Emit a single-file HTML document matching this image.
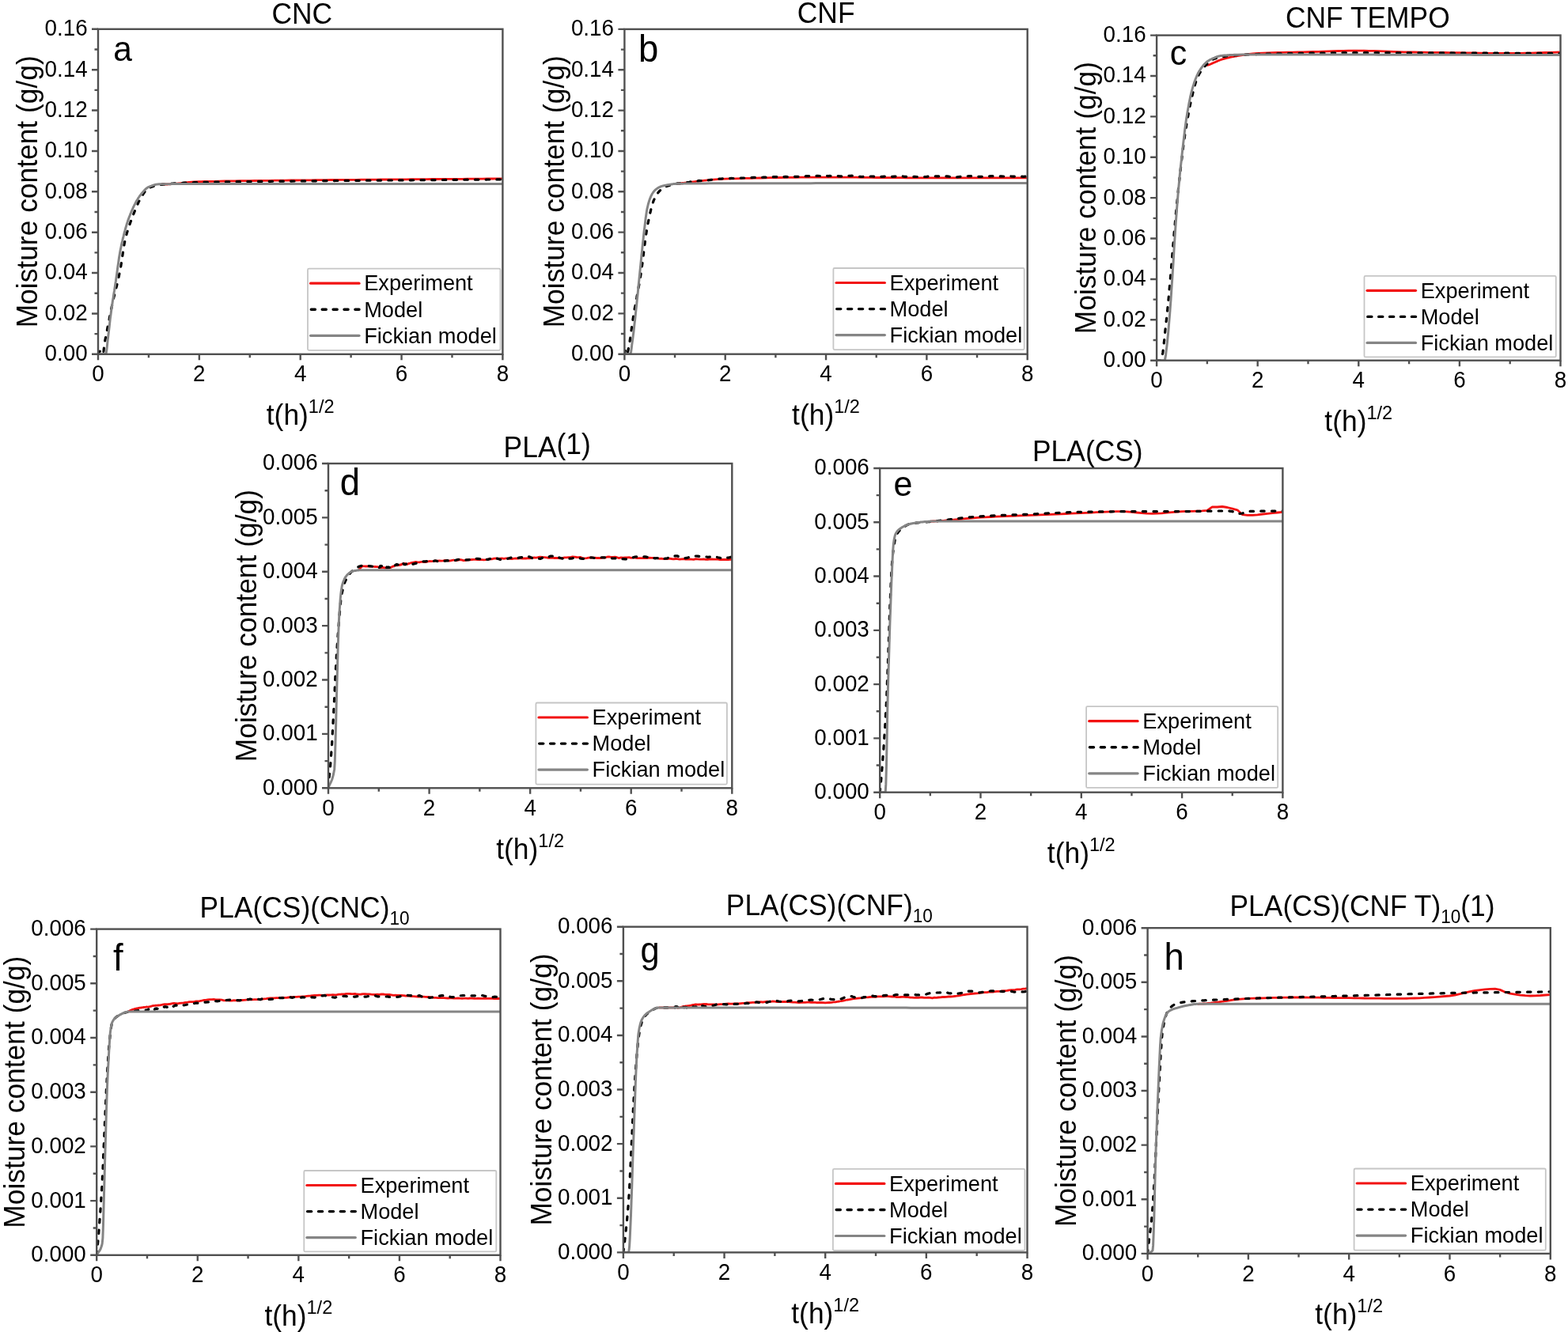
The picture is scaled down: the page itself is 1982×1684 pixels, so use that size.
<!DOCTYPE html>
<html><head><meta charset="utf-8"><title>Moisture content</title>
<style>html,body{margin:0;padding:0;background:#fff;}svg{display:block;}</style></head>
<body><svg width="1982" height="1684" viewBox="0 0 1982 1684">
<rect width="1982" height="1684" fill="#fff"/>
<clipPath id="clipa"><rect x="124.0" y="34.8" width="511.4" height="413.0"/></clipPath>
<g clip-path="url(#clipa)" fill="none" stroke-linejoin="round">
<path d="M203.9,232.8 204.5,232.8 205.2,232.9 205.8,233.0 206.5,233.0 207.1,233.1 207.7,233.1 208.4,233.0 209.0,233.0 209.7,233.0 210.3,233.0 210.9,233.0 211.6,233.0 212.2,232.9 212.9,232.9 213.5,232.9 214.1,232.9 214.8,232.8 215.4,232.8 216.1,232.7 216.7,232.7 217.3,232.7 218.0,232.6 218.6,232.6 219.2,232.5 219.9,232.5 220.5,232.4 221.2,232.4 221.8,232.3 222.4,232.2 223.1,232.2 223.7,232.1 224.4,232.1 225.0,232.0 225.6,231.9 226.3,231.9 226.3,231.9 232.7,231.2 239.1,230.5 245.5,230.0 251.9,229.7 258.2,229.5 264.6,229.4 271.0,229.3 277.4,229.1 283.8,229.0 290.2,228.9 296.6,228.8 303.0,228.7 309.4,228.6 315.8,228.6 322.2,228.5 328.6,228.4 335.0,228.4 341.3,228.3 347.7,228.2 354.1,228.2 360.5,228.1 366.9,228.0 373.3,228.0 379.7,227.9 386.1,227.8 392.5,227.8 398.9,227.7 405.3,227.7 411.7,227.6 418.1,227.5 424.4,227.5 430.8,227.4 437.2,227.4 443.6,227.3 450.0,227.3 456.4,227.2 462.8,227.2 469.2,227.1 475.6,227.1 482.0,227.0 488.4,227.0 494.8,226.9 501.2,226.9 507.6,226.8 513.9,226.8 520.3,226.7 526.7,226.7 533.1,226.6 539.5,226.6 545.9,226.5 552.3,226.5 558.7,226.4 565.1,226.4 571.5,226.3 577.9,226.3 584.3,226.3 590.7,226.2 597.0,226.2 603.4,226.1 609.8,226.1 616.2,226.0 622.6,226.0 629.0,225.9 635.4,225.9 635.4,225.9" stroke="#f21212" stroke-width="2.8"/>
<path d="M124.0,447.8 124.6,446.7 125.3,445.4 125.9,444.4 126.6,443.9 127.2,444.2 127.8,444.9 128.5,445.8 129.1,446.5 129.8,447.3 130.4,447.8 131.0,443.7 131.7,437.5 132.3,433.5 132.9,429.8 133.6,426.4 134.2,423.2 134.9,420.0 135.5,416.7 136.1,413.3 136.8,410.0 137.4,406.7 138.1,403.5 138.7,400.2 139.3,397.1 140.0,393.9 140.6,390.8 141.3,387.7 141.9,384.7 142.5,381.8 143.2,379.0 143.8,376.2 144.5,373.6 145.1,370.9 145.7,368.4 146.4,365.8 147.0,363.2 147.7,360.7 148.3,358.0 148.9,355.3 149.6,352.6 150.2,349.7 150.8,346.7 151.5,343.6 152.1,340.3 152.8,336.6 153.4,332.6 154.0,328.5 154.7,324.2 155.3,320.0 156.0,315.8 156.6,311.8 157.2,308.1 157.9,304.8 158.5,301.9 159.2,299.3 159.8,296.9 160.4,294.6 161.1,292.4 161.7,290.3 162.4,288.3 163.0,286.3 163.6,284.5 164.3,282.7 164.9,280.9 165.6,279.2 166.2,277.5 166.8,275.8 167.5,274.2 168.1,272.5 168.7,270.9 169.4,269.2 170.0,267.6 170.7,266.0 171.3,264.4 171.9,262.9 172.6,261.4 173.2,259.9 173.9,258.4 174.5,257.0 175.1,255.6 175.8,254.3 176.4,253.0 177.1,251.8 177.7,250.6 178.3,249.5 179.0,248.4 179.6,247.4 180.3,246.5 180.9,245.5 181.5,244.6 182.2,243.6 182.8,242.7 183.5,241.9 184.1,241.0 184.7,240.3 185.4,239.6 186.0,239.0 186.6,238.4 187.3,238.0 187.9,237.7 188.6,237.4 189.2,237.1 189.8,236.9 190.5,236.6 191.1,236.4 191.8,236.2 192.4,236.0 193.0,235.8 193.7,235.6 194.3,235.4 195.0,235.2 195.6,235.0 196.2,234.9 196.9,234.7 197.5,234.6 198.2,234.4 198.8,234.3 199.4,234.2 200.1,234.0 200.7,233.9 201.3,233.8 202.0,233.7 202.6,233.6 203.3,233.5 203.9,233.4 204.5,233.3 205.2,233.3 205.8,233.2 206.5,233.1 207.1,233.1 207.7,233.0 208.4,232.9 209.0,232.9 209.7,232.8 210.3,232.7 210.9,232.7 211.6,232.6 212.2,232.6 212.9,232.5 213.5,232.5 214.1,232.4 214.8,232.3 215.4,232.3 216.1,232.2 216.7,232.2 217.3,232.1 218.0,232.1 218.6,232.0 219.2,232.0 219.9,231.9 220.5,231.9 221.2,231.9 221.8,231.8 222.4,231.8 223.1,231.7 223.7,231.7 224.4,231.6 225.0,231.6 225.6,231.6 226.3,231.5 232.7,231.2 239.1,230.9 245.5,230.7 251.9,230.5 258.2,230.3 264.6,230.2 271.0,230.1 277.4,230.0 283.8,229.9 290.2,229.8 296.6,229.7 303.0,229.7 309.4,229.6 315.8,229.5 322.2,229.5 328.6,229.4 335.0,229.3 341.3,229.3 347.7,229.2 354.1,229.2 360.5,229.1 366.9,229.1 373.3,229.0 379.7,228.9 386.1,228.9 392.5,228.8 398.9,228.8 405.3,228.7 411.7,228.6 418.1,228.6 424.4,228.5 430.8,228.5 437.2,228.4 443.6,228.4 450.0,228.3 456.4,228.3 462.8,228.2 469.2,228.2 475.6,228.1 482.0,228.1 488.4,228.0 494.8,228.0 501.2,227.9 507.6,227.9 513.9,227.8 520.3,227.8 526.7,227.7 533.1,227.7 539.5,227.6 545.9,227.6 552.3,227.5 558.7,227.5 565.1,227.4 571.5,227.4 577.9,227.3 584.3,227.3 590.7,227.2 597.0,227.2 603.4,227.1 609.8,227.1 616.2,227.0 622.6,227.0 629.0,226.9 635.4,226.9 635.4,226.9" stroke="#000" stroke-width="3.2" stroke-linecap="round" stroke-dasharray="4.4,9.3"/>
<path d="M124.0,447.8 124.6,447.8 125.3,447.8 125.9,447.8 126.6,447.8 127.2,447.8 127.8,447.8 128.5,447.8 129.1,447.8 129.8,447.8 130.4,447.8 131.0,447.8 131.7,447.8 132.3,447.8 132.9,447.8 133.6,447.8 134.2,446.2 134.9,442.1 135.5,436.4 136.1,430.3 136.8,424.7 137.4,419.5 138.1,413.9 138.7,408.3 139.3,402.8 140.0,397.7 140.6,393.0 141.3,388.5 141.9,384.2 142.5,380.0 143.2,375.9 143.8,371.8 144.5,367.8 145.1,363.7 145.7,359.6 146.4,355.3 147.0,350.9 147.7,346.3 148.3,341.7 148.9,337.0 149.6,332.5 150.2,328.0 150.8,323.9 151.5,320.0 152.1,316.5 152.8,313.3 153.4,310.3 154.0,307.3 154.7,304.5 155.3,301.7 156.0,299.1 156.6,296.5 157.2,294.0 157.9,291.6 158.5,289.3 159.2,287.0 159.8,284.9 160.4,282.8 161.1,280.8 161.7,278.9 162.4,277.1 163.0,275.3 163.6,273.7 164.3,272.0 164.9,270.4 165.6,268.9 166.2,267.3 166.8,265.8 167.5,264.4 168.1,263.0 168.7,261.6 169.4,260.2 170.0,258.9 170.7,257.7 171.3,256.5 171.9,255.3 172.6,254.1 173.2,253.0 173.9,252.0 174.5,250.9 175.1,250.0 175.8,249.0 176.4,248.1 177.1,247.3 177.7,246.4 178.3,245.6 179.0,244.8 179.6,244.0 180.3,243.2 180.9,242.4 181.5,241.7 182.2,241.0 182.8,240.3 183.5,239.6 184.1,239.0 184.7,238.5 185.4,238.0 186.0,237.5 186.6,237.1 187.3,236.7 187.9,236.4 188.6,236.1 189.2,235.9 189.8,235.6 190.5,235.3 191.1,235.1 191.8,234.8 192.4,234.6 193.0,234.4 193.7,234.2 194.3,234.0 195.0,233.8 195.6,233.6 196.2,233.5 196.9,233.3 197.5,233.2 198.2,233.1 198.8,233.0 199.4,232.9 200.1,232.9 200.7,232.8 201.3,232.8 202.0,232.8 202.6,232.8 203.3,232.8 203.9,232.8 204.5,232.8 205.2,232.8 205.8,232.7 206.5,232.7 207.1,232.7 207.7,232.7 208.4,232.7 209.0,232.7 209.7,232.7 210.3,232.7 210.9,232.7 211.6,232.7 212.2,232.7 212.9,232.7 213.5,232.7 214.1,232.7 214.8,232.7 215.4,232.7 216.1,232.7 216.7,232.6 217.3,232.6 218.0,232.6 218.6,232.6 219.2,232.6 219.9,232.6 220.5,232.6 221.2,232.6 221.8,232.6 222.4,232.6 223.1,232.6 223.7,232.6 224.4,232.6 225.0,232.6 225.6,232.6 226.3,232.6 232.7,232.6 239.1,232.6 245.5,232.5 251.9,232.5 258.2,232.5 264.6,232.5 271.0,232.5 277.4,232.5 283.8,232.5 290.2,232.5 296.6,232.5 303.0,232.5 309.4,232.5 315.8,232.5 322.2,232.5 328.6,232.5 335.0,232.5 341.3,232.5 347.7,232.5 354.1,232.5 360.5,232.5 366.9,232.5 373.3,232.5 379.7,232.5 386.1,232.5 392.5,232.5 398.9,232.5 405.3,232.5 411.7,232.5 418.1,232.5 424.4,232.5 430.8,232.5 437.2,232.5 443.6,232.5 450.0,232.5 456.4,232.5 462.8,232.5 469.2,232.5 475.6,232.5 482.0,232.5 488.4,232.5 494.8,232.5 501.2,232.5 507.6,232.5 513.9,232.5 520.3,232.5 526.7,232.5 533.1,232.5 539.5,232.5 545.9,232.5 552.3,232.5 558.7,232.5 565.1,232.5 571.5,232.5 577.9,232.5 584.3,232.5 590.7,232.5 597.0,232.5 603.4,232.5 609.8,232.5 616.2,232.5 622.6,232.5 629.0,232.5 635.4,232.5 635.4,232.5" stroke="#858585" stroke-width="3"/>
</g>
<rect x="124.0" y="36.8" width="511.4" height="411.0" fill="none" stroke="#505050" stroke-width="2.4"/>
<path d="M116.00,447.80H124.00M119.50,422.11H124.00M116.00,396.43H124.00M119.50,370.74H124.00M116.00,345.05H124.00M119.50,319.36H124.00M116.00,293.68H124.00M119.50,267.99H124.00M116.00,242.30H124.00M119.50,216.61H124.00M116.00,190.93H124.00M119.50,165.24H124.00M116.00,139.55H124.00M119.50,113.86H124.00M116.00,88.18H124.00M119.50,62.49H124.00M116.00,36.80H124.00M124.00,447.80V455.30M187.93,447.80V452.30M251.85,447.80V455.30M315.77,447.80V452.30M379.70,447.80V455.30M443.62,447.80V452.30M507.55,447.80V455.30M571.47,447.80V452.30M635.40,447.80V455.30" stroke="#505050" stroke-width="2.4" fill="none"/>
<g font-family="'Liberation Sans', sans-serif" font-size="27.8" fill="#000">
<text text-anchor="end" transform="translate(110.60,456.20) scale(1,1.045)">0.00</text>
<text text-anchor="end" transform="translate(110.60,404.82) scale(1,1.045)">0.02</text>
<text text-anchor="end" transform="translate(110.60,353.45) scale(1,1.045)">0.04</text>
<text text-anchor="end" transform="translate(110.60,302.07) scale(1,1.045)">0.06</text>
<text text-anchor="end" transform="translate(110.60,250.70) scale(1,1.045)">0.08</text>
<text text-anchor="end" transform="translate(110.60,199.33) scale(1,1.045)">0.10</text>
<text text-anchor="end" transform="translate(110.60,147.95) scale(1,1.045)">0.12</text>
<text text-anchor="end" transform="translate(110.60,96.58) scale(1,1.045)">0.14</text>
<text text-anchor="end" transform="translate(110.60,45.20) scale(1,1.045)">0.16</text>
<text text-anchor="middle" transform="translate(124.00,482.40) scale(1,1.045)">0</text>
<text text-anchor="middle" transform="translate(251.85,482.40) scale(1,1.045)">2</text>
<text text-anchor="middle" transform="translate(379.70,482.40) scale(1,1.045)">4</text>
<text text-anchor="middle" transform="translate(507.55,482.40) scale(1,1.045)">6</text>
<text text-anchor="middle" transform="translate(635.40,482.40) scale(1,1.045)">8</text>
</g>
<text font-family="'Liberation Sans', sans-serif" font-size="35.4" transform="translate(46.90,242.30) rotate(-90) scale(1,1.045)" text-anchor="middle">Moisture content (g/g)</text>
<text font-family="'Liberation Sans', sans-serif" font-size="35.4" text-anchor="middle" transform="translate(379.70,537.00) scale(1,1.045)">t(h)<tspan font-size="23.6" dy="-14.16">1/2</tspan></text>
<text font-family="'Liberation Sans', sans-serif" font-size="35.4" transform="translate(343.50,29.50) scale(1,1.045)">CNC</text>
<text font-family="'Liberation Sans', sans-serif" font-size="42.5" transform="translate(143.20,77.40) scale(1,1.045)">a</text>
<rect x="389.00" y="339.70" width="243.50" height="103.10" rx="1.5" fill="#fff" stroke="#c6c6c6" stroke-width="1.8"/>
<path d="M392.60,358.20H454.00" stroke="#f21212" stroke-width="3.2" stroke-linecap="round"/>
<text font-family="'Liberation Sans', sans-serif" font-size="27.2" transform="translate(460.20,367.40) scale(1,1.045)">Experiment</text>
<path d="M393.30,391.30H455.00" stroke="#000" stroke-width="3.4" stroke-linecap="round" stroke-dasharray="5.1,8.8"/>
<text font-family="'Liberation Sans', sans-serif" font-size="27.2" transform="translate(460.20,400.50) scale(1,1.045)">Model</text>
<path d="M392.60,424.30H454.00" stroke="#858585" stroke-width="3.2" stroke-linecap="round"/>
<text font-family="'Liberation Sans', sans-serif" font-size="27.2" transform="translate(460.20,433.50) scale(1,1.045)">Fickian model</text>
<clipPath id="clipb"><rect x="789.4" y="34.9" width="509.30000000000007" height="412.8"/></clipPath>
<g clip-path="url(#clipb)" fill="none" stroke-linejoin="round">
<path d="M855.6,232.3 856.2,232.2 856.9,232.2 857.5,232.1 858.2,232.0 858.8,232.0 859.4,231.9 860.1,231.8 860.7,231.7 861.3,231.7 862.0,231.6 862.6,231.5 863.2,231.5 863.9,231.4 864.5,231.3 865.2,231.2 865.8,231.2 866.4,231.1 867.1,231.0 867.7,230.9 868.3,230.9 869.0,230.8 869.6,230.7 870.3,230.6 870.9,230.5 871.5,230.5 872.2,230.4 872.8,230.3 873.4,230.2 874.1,230.2 874.7,230.1 875.3,230.0 876.0,229.9 876.6,229.8 877.3,229.8 877.9,229.7 878.5,229.6 879.2,229.5 879.8,229.4 880.4,229.4 881.1,229.3 881.7,229.2 882.3,229.1 883.0,229.0 883.6,229.0 884.3,228.9 884.9,228.8 885.5,228.7 886.2,228.7 886.8,228.6 887.4,228.5 888.1,228.4 888.7,228.4 889.4,228.3 890.0,228.2 890.6,228.2 891.3,228.1 891.3,228.1 897.6,227.4 904.0,226.8 910.4,226.4 916.7,226.1 923.1,225.9 929.5,225.8 935.8,225.6 942.2,225.4 948.6,225.3 954.9,225.1 961.3,225.0 967.7,224.8 974.0,224.7 980.4,224.6 986.8,224.5 993.1,224.4 999.5,224.3 1005.9,224.3 1012.2,224.2 1018.6,224.2 1025.0,224.1 1031.3,224.1 1037.7,224.1 1044.1,224.1 1050.4,224.1 1056.8,224.1 1063.1,224.1 1069.5,224.2 1075.9,224.2 1082.2,224.2 1088.6,224.3 1095.0,224.3 1101.3,224.4 1107.7,224.5 1114.1,224.5 1120.4,224.6 1126.8,224.6 1133.2,224.7 1139.5,224.7 1145.9,224.8 1152.3,224.8 1158.6,224.8 1165.0,224.8 1171.4,224.8 1177.7,224.8 1184.1,224.8 1190.5,224.8 1196.8,224.8 1203.2,224.8 1209.6,224.8 1215.9,224.8 1222.3,224.8 1228.7,224.8 1235.0,224.8 1241.4,224.8 1247.8,224.8 1254.1,224.8 1260.5,224.8 1266.9,224.8 1273.2,224.8 1279.6,224.8 1286.0,224.8 1292.3,224.8 1298.7,224.8 1298.7,224.8" stroke="#f21212" stroke-width="2.8"/>
<path d="M789.4,447.7 790.0,444.5 790.7,442.6 791.3,443.9 791.9,446.4 792.6,447.7 793.2,446.4 793.9,443.3 794.5,440.0 795.1,436.7 795.8,433.1 796.4,429.1 797.0,424.8 797.7,420.4 798.3,415.9 798.9,411.3 799.6,406.8 800.2,402.5 800.9,398.3 801.5,394.4 802.1,390.7 802.8,387.1 803.4,383.6 804.0,380.1 804.7,376.7 805.3,373.4 806.0,370.0 806.6,366.6 807.2,363.1 807.9,359.6 808.5,355.9 809.1,352.2 809.8,348.3 810.4,344.2 811.0,339.8 811.7,335.0 812.3,330.1 813.0,325.0 813.6,319.8 814.2,314.6 814.9,309.5 815.5,304.6 816.1,300.0 816.8,295.7 817.4,291.7 818.0,288.0 818.7,284.4 819.3,281.1 820.0,277.8 820.6,274.7 821.2,271.8 821.9,269.0 822.5,266.3 823.1,263.6 823.8,261.2 824.4,258.9 825.1,256.9 825.7,255.1 826.3,253.4 827.0,251.9 827.6,250.5 828.2,249.1 828.9,247.9 829.5,246.9 830.1,245.8 830.8,244.9 831.4,244.0 832.1,243.3 832.7,242.6 833.3,241.9 834.0,241.2 834.6,240.6 835.2,240.0 835.9,239.4 836.5,238.9 837.1,238.3 837.8,237.9 838.4,237.4 839.1,237.0 839.7,236.7 840.3,236.4 841.0,236.1 841.6,235.9 842.2,235.7 842.9,235.4 843.5,235.2 844.1,235.0 844.8,234.8 845.4,234.7 846.1,234.5 846.7,234.3 847.3,234.2 848.0,234.0 848.6,233.9 849.2,233.7 849.9,233.6 850.5,233.5 851.2,233.3 851.8,233.2 852.4,233.1 853.1,233.0 853.7,233.0 854.3,232.7 855.0,232.2 855.6,232.1 856.2,232.0 856.9,231.8 857.5,231.9 858.2,232.0 858.8,232.0 859.4,231.8 860.1,232.1 860.7,231.8 861.3,231.8 862.0,231.7 862.6,231.5 863.2,231.1 863.9,231.1 864.5,231.1 865.2,230.9 865.8,231.0 866.4,230.9 867.1,230.7 867.7,230.6 868.3,230.6 869.0,230.5 869.6,230.6 870.3,230.7 870.9,230.5 871.5,230.3 872.2,230.0 872.8,229.9 873.4,229.7 874.1,229.7 874.7,229.4 875.3,229.5 876.0,229.3 876.6,229.3 877.3,229.3 877.9,229.4 878.5,229.4 879.2,229.3 879.8,229.3 880.4,229.1 881.1,229.1 881.7,228.8 882.3,228.8 883.0,228.4 883.6,228.6 884.3,228.4 884.9,228.6 885.5,228.5 886.2,228.6 886.8,228.4 887.4,228.3 888.1,228.1 888.7,227.9 889.4,227.9 890.0,227.9 890.6,227.9 891.3,228.0 893.8,228.0 896.4,227.7 898.9,227.3 901.4,227.1 904.0,226.8 906.5,226.3 909.1,226.2 911.6,226.1 914.2,225.9 916.7,225.8 919.3,225.8 921.8,225.6 924.4,225.4 926.9,225.5 929.5,225.4 932.0,225.4 934.6,225.3 937.1,225.1 939.6,225.0 942.2,225.0 944.7,224.8 947.3,224.8 949.8,224.7 952.4,224.4 954.9,224.3 957.5,224.2 960.0,224.3 962.6,224.3 965.1,224.2 967.7,224.2 970.2,224.2 972.7,223.9 975.3,223.7 977.8,223.7 980.4,223.7 982.9,223.4 985.5,223.6 988.0,223.7 990.6,223.7 993.1,223.4 995.7,223.6 998.2,223.2 1000.8,223.2 1003.3,223.2 1005.9,223.4 1008.4,223.3 1010.9,223.3 1013.5,223.2 1016.0,223.0 1018.6,222.7 1021.1,222.6 1023.7,222.6 1026.2,222.6 1028.8,222.6 1031.3,222.4 1033.9,222.4 1036.4,222.5 1039.0,222.3 1041.5,222.1 1044.1,222.3 1046.6,222.6 1049.1,222.4 1051.7,222.6 1054.2,222.7 1056.8,222.9 1059.3,222.6 1061.9,222.8 1064.4,222.9 1067.0,222.6 1069.5,222.2 1072.1,222.2 1074.6,222.3 1077.2,222.2 1079.7,222.7 1082.2,223.0 1084.8,223.2 1087.3,223.3 1089.9,223.5 1092.4,223.3 1095.0,223.3 1097.5,223.2 1100.1,223.0 1102.6,223.0 1105.2,223.1 1107.7,223.3 1110.3,223.4 1112.8,223.4 1115.4,223.3 1117.9,223.1 1120.4,223.1 1123.0,223.1 1125.5,223.2 1128.1,223.4 1130.6,223.2 1133.2,223.0 1135.7,223.1 1138.3,223.1 1140.8,222.9 1143.4,223.3 1145.9,223.3 1148.5,223.4 1151.0,223.3 1153.5,223.4 1156.1,223.3 1158.6,223.5 1161.2,223.5 1163.7,223.6 1166.3,223.6 1168.8,223.5 1171.4,223.4 1173.9,223.1 1176.5,222.9 1179.0,222.9 1181.6,222.7 1184.1,222.8 1186.7,222.8 1189.2,222.9 1191.7,223.0 1194.3,223.0 1196.8,222.8 1199.4,223.2 1201.9,223.4 1204.5,223.3 1207.0,223.6 1209.6,223.8 1212.1,223.6 1214.7,223.4 1217.2,223.4 1219.8,222.9 1222.3,222.8 1224.9,222.6 1227.4,222.7 1229.9,222.7 1232.5,223.0 1235.0,223.2 1237.6,223.4 1240.1,223.3 1242.7,223.2 1245.2,223.0 1247.8,222.8 1250.3,222.8 1252.9,222.7 1255.4,222.7 1258.0,222.8 1260.5,222.9 1263.0,222.9 1265.6,222.9 1268.1,223.0 1270.7,223.0 1273.2,222.9 1275.8,222.8 1278.3,223.0 1280.9,223.1 1283.4,223.3 1286.0,223.5 1288.5,223.5 1291.1,223.2 1293.6,223.3 1296.2,223.1 1298.7,222.9 1298.7,223.0" stroke="#000" stroke-width="3.2" stroke-linecap="round" stroke-dasharray="4.4,9.3"/>
<path d="M789.4,447.7 790.0,447.7 790.7,447.7 791.3,447.7 791.9,447.7 792.6,447.7 793.2,447.7 793.9,447.7 794.5,447.7 795.1,447.7 795.8,447.7 796.4,447.7 797.0,447.2 797.7,444.3 798.3,439.9 798.9,434.7 799.6,429.7 800.2,425.0 800.9,419.8 801.5,414.3 802.1,408.6 802.8,402.8 803.4,396.9 804.0,391.1 804.7,385.0 805.3,378.9 806.0,372.7 806.6,366.4 807.2,360.0 807.9,353.7 808.5,347.5 809.1,341.3 809.8,334.9 810.4,328.5 811.0,322.0 811.7,315.6 812.3,309.3 813.0,303.3 813.6,297.5 814.2,292.0 814.9,286.6 815.5,281.3 816.1,276.1 816.8,271.5 817.4,267.3 818.0,263.9 818.7,261.0 819.3,258.3 820.0,256.0 820.6,253.9 821.2,252.1 821.9,250.4 822.5,248.9 823.1,247.5 823.8,246.2 824.4,245.0 825.1,244.0 825.7,243.1 826.3,242.3 827.0,241.5 827.6,240.8 828.2,240.2 828.9,239.6 829.5,239.1 830.1,238.6 830.8,238.2 831.4,237.8 832.1,237.4 832.7,237.0 833.3,236.7 834.0,236.4 834.6,236.1 835.2,235.8 835.9,235.6 836.5,235.4 837.1,235.2 837.8,235.1 838.4,234.9 839.1,234.7 839.7,234.6 840.3,234.4 841.0,234.3 841.6,234.2 842.2,234.1 842.9,233.9 843.5,233.8 844.1,233.7 844.8,233.6 845.4,233.5 846.1,233.4 846.7,233.3 847.3,233.2 848.0,233.1 848.6,233.0 849.2,232.9 849.9,232.8 850.5,232.7 851.2,232.6 851.8,232.5 852.4,232.5 853.1,232.4 853.7,232.4 854.3,232.3 855.0,232.3 855.6,232.3 856.2,232.3 856.9,232.3 857.5,232.3 858.2,232.2 858.8,232.2 859.4,232.2 860.1,232.2 860.7,232.2 861.3,232.2 862.0,232.2 862.6,232.2 863.2,232.2 863.9,232.1 864.5,232.1 865.2,232.1 865.8,232.1 866.4,232.1 867.1,232.1 867.7,232.1 868.3,232.1 869.0,232.1 869.6,232.1 870.3,232.1 870.9,232.0 871.5,232.0 872.2,232.0 872.8,232.0 873.4,232.0 874.1,232.0 874.7,232.0 875.3,232.0 876.0,232.0 876.6,232.0 877.3,232.0 877.9,232.0 878.5,232.0 879.2,232.0 879.8,231.9 880.4,231.9 881.1,231.9 881.7,231.9 882.3,231.9 883.0,231.9 883.6,231.9 884.3,231.9 884.9,231.9 885.5,231.9 886.2,231.9 886.8,231.9 887.4,231.9 888.1,231.9 888.7,231.9 889.4,231.9 890.0,231.9 890.6,231.9 891.3,231.9 897.6,231.8 904.0,231.8 910.4,231.8 916.7,231.8 923.1,231.8 929.5,231.8 935.8,231.7 942.2,231.7 948.6,231.7 954.9,231.7 961.3,231.7 967.7,231.7 974.0,231.7 980.4,231.7 986.8,231.7 993.1,231.7 999.5,231.7 1005.9,231.7 1012.2,231.7 1018.6,231.7 1025.0,231.7 1031.3,231.6 1037.7,231.6 1044.1,231.6 1050.4,231.6 1056.8,231.6 1063.1,231.6 1069.5,231.6 1075.9,231.6 1082.2,231.6 1088.6,231.6 1095.0,231.6 1101.3,231.6 1107.7,231.6 1114.1,231.6 1120.4,231.6 1126.8,231.6 1133.2,231.6 1139.5,231.6 1145.9,231.6 1152.3,231.6 1158.6,231.6 1165.0,231.6 1171.4,231.6 1177.7,231.6 1184.1,231.6 1190.5,231.6 1196.8,231.6 1203.2,231.6 1209.6,231.6 1215.9,231.6 1222.3,231.6 1228.7,231.6 1235.0,231.6 1241.4,231.5 1247.8,231.5 1254.1,231.5 1260.5,231.5 1266.9,231.5 1273.2,231.5 1279.6,231.5 1286.0,231.5 1292.3,231.5 1298.7,231.5 1298.7,231.5" stroke="#858585" stroke-width="3"/>
</g>
<rect x="789.4" y="36.9" width="509.30000000000007" height="410.8" fill="none" stroke="#505050" stroke-width="2.4"/>
<path d="M781.40,447.70H789.40M784.90,422.02H789.40M781.40,396.35H789.40M784.90,370.67H789.40M781.40,345.00H789.40M784.90,319.32H789.40M781.40,293.65H789.40M784.90,267.97H789.40M781.40,242.30H789.40M784.90,216.62H789.40M781.40,190.95H789.40M784.90,165.27H789.40M781.40,139.60H789.40M784.90,113.92H789.40M781.40,88.25H789.40M784.90,62.58H789.40M781.40,36.90H789.40M789.40,447.70V455.20M853.06,447.70V452.20M916.73,447.70V455.20M980.39,447.70V452.20M1044.05,447.70V455.20M1107.71,447.70V452.20M1171.38,447.70V455.20M1235.04,447.70V452.20M1298.70,447.70V455.20" stroke="#505050" stroke-width="2.4" fill="none"/>
<g font-family="'Liberation Sans', sans-serif" font-size="27.8" fill="#000">
<text text-anchor="end" transform="translate(776.00,456.10) scale(1,1.045)">0.00</text>
<text text-anchor="end" transform="translate(776.00,404.75) scale(1,1.045)">0.02</text>
<text text-anchor="end" transform="translate(776.00,353.40) scale(1,1.045)">0.04</text>
<text text-anchor="end" transform="translate(776.00,302.05) scale(1,1.045)">0.06</text>
<text text-anchor="end" transform="translate(776.00,250.70) scale(1,1.045)">0.08</text>
<text text-anchor="end" transform="translate(776.00,199.35) scale(1,1.045)">0.10</text>
<text text-anchor="end" transform="translate(776.00,148.00) scale(1,1.045)">0.12</text>
<text text-anchor="end" transform="translate(776.00,96.65) scale(1,1.045)">0.14</text>
<text text-anchor="end" transform="translate(776.00,45.30) scale(1,1.045)">0.16</text>
<text text-anchor="middle" transform="translate(789.40,482.30) scale(1,1.045)">0</text>
<text text-anchor="middle" transform="translate(916.73,482.30) scale(1,1.045)">2</text>
<text text-anchor="middle" transform="translate(1044.05,482.30) scale(1,1.045)">4</text>
<text text-anchor="middle" transform="translate(1171.38,482.30) scale(1,1.045)">6</text>
<text text-anchor="middle" transform="translate(1298.70,482.30) scale(1,1.045)">8</text>
</g>
<text font-family="'Liberation Sans', sans-serif" font-size="35.4" transform="translate(713.00,242.30) rotate(-90) scale(1,1.045)" text-anchor="middle">Moisture content (g/g)</text>
<text font-family="'Liberation Sans', sans-serif" font-size="35.4" text-anchor="middle" transform="translate(1044.05,536.90) scale(1,1.045)">t(h)<tspan font-size="23.6" dy="-14.16">1/2</tspan></text>
<text font-family="'Liberation Sans', sans-serif" font-size="35.4" transform="translate(1007.80,28.90) scale(1,1.045)">CNF</text>
<text font-family="'Liberation Sans', sans-serif" font-size="45.5" transform="translate(806.90,77.70) scale(1,1.045)">b</text>
<rect x="1053.40" y="339.00" width="241.30" height="103.10" rx="1.5" fill="#fff" stroke="#c6c6c6" stroke-width="1.8"/>
<path d="M1057.00,357.50H1118.40" stroke="#f21212" stroke-width="3.2" stroke-linecap="round"/>
<text font-family="'Liberation Sans', sans-serif" font-size="27.2" transform="translate(1124.60,366.70) scale(1,1.045)">Experiment</text>
<path d="M1057.70,390.60H1119.40" stroke="#000" stroke-width="3.4" stroke-linecap="round" stroke-dasharray="5.1,8.8"/>
<text font-family="'Liberation Sans', sans-serif" font-size="27.2" transform="translate(1124.60,399.80) scale(1,1.045)">Model</text>
<path d="M1057.00,423.60H1118.40" stroke="#858585" stroke-width="3.2" stroke-linecap="round"/>
<text font-family="'Liberation Sans', sans-serif" font-size="27.2" transform="translate(1124.60,432.80) scale(1,1.045)">Fickian model</text>
<clipPath id="clipc"><rect x="1462.1" y="42.6" width="510.4000000000001" height="413.09999999999997"/></clipPath>
<g clip-path="url(#clipc)" fill="none" stroke-linejoin="round">
<path d="M1524.0,79.6 1524.6,80.7 1525.3,81.9 1525.9,82.4 1526.5,82.3 1527.2,82.2 1527.8,82.0 1528.5,81.8 1529.1,81.6 1529.7,81.3 1530.4,81.0 1531.0,80.7 1531.6,80.4 1532.3,80.1 1532.9,79.8 1533.6,79.6 1534.2,79.3 1534.8,79.0 1535.5,78.8 1536.1,78.5 1536.7,78.2 1537.4,77.9 1538.0,77.6 1538.7,77.4 1539.3,77.1 1539.9,76.8 1540.6,76.5 1541.2,76.3 1541.8,76.0 1542.5,75.8 1543.1,75.5 1543.8,75.3 1544.4,75.1 1545.0,74.9 1545.7,74.7 1546.3,74.6 1547.0,74.4 1547.6,74.2 1548.2,74.0 1548.9,73.9 1549.5,73.7 1550.1,73.5 1550.8,73.4 1551.4,73.2 1552.1,73.1 1552.7,72.9 1553.3,72.8 1554.0,72.6 1554.6,72.5 1555.2,72.3 1555.9,72.2 1556.5,72.1 1557.2,71.9 1557.8,71.8 1558.4,71.7 1559.1,71.6 1559.7,71.4 1560.4,71.3 1561.0,71.2 1561.6,71.1 1562.3,71.0 1562.9,70.9 1563.5,70.8 1564.2,70.7 1564.2,70.7 1570.6,69.6 1576.9,68.7 1583.3,68.0 1589.7,67.5 1596.1,67.2 1602.5,66.9 1608.8,66.7 1615.2,66.5 1621.6,66.4 1628.0,66.2 1634.4,66.1 1640.7,66.0 1647.1,65.8 1653.5,65.7 1659.9,65.5 1666.3,65.3 1672.6,65.1 1679.0,64.9 1685.4,64.7 1691.8,64.5 1698.2,64.4 1704.5,64.2 1710.9,64.2 1717.3,64.1 1723.7,64.2 1730.1,64.3 1736.4,64.4 1742.8,64.7 1749.2,64.9 1755.6,65.1 1762.0,65.4 1768.3,65.6 1774.7,65.8 1781.1,65.9 1787.5,66.0 1793.9,66.1 1800.2,66.2 1806.6,66.3 1813.0,66.3 1819.4,66.4 1825.8,66.5 1832.1,66.6 1838.5,66.6 1844.9,66.7 1851.3,66.8 1857.7,66.9 1864.0,67.0 1870.4,67.1 1876.8,67.2 1883.2,67.3 1889.6,67.3 1895.9,67.4 1902.3,67.5 1908.7,67.5 1915.1,67.4 1921.5,67.4 1927.8,67.2 1934.2,67.1 1940.6,66.9 1947.0,66.7 1953.4,66.5 1959.7,66.3 1966.1,66.1 1972.5,65.9 1972.5,65.9" stroke="#f21212" stroke-width="2.8"/>
<path d="M1462.1,455.7 1462.7,455.7 1463.4,455.7 1464.0,455.7 1464.7,455.7 1465.3,455.7 1465.9,455.7 1466.6,455.7 1467.2,455.7 1467.8,455.0 1468.5,453.0 1469.1,450.0 1469.8,446.0 1470.4,441.2 1471.0,435.8 1471.7,430.0 1472.3,423.9 1472.9,417.7 1473.6,411.5 1474.2,405.6 1474.9,399.9 1475.5,393.9 1476.1,387.5 1476.8,380.8 1477.4,373.9 1478.0,366.8 1478.7,359.6 1479.3,352.4 1480.0,345.0 1480.6,337.4 1481.2,329.5 1481.9,321.5 1482.5,313.6 1483.2,305.8 1483.8,298.3 1484.4,291.2 1485.1,284.3 1485.7,277.5 1486.3,270.8 1487.0,264.1 1487.6,257.6 1488.3,251.3 1488.9,245.0 1489.5,238.9 1490.2,232.8 1490.8,227.0 1491.4,221.2 1492.1,215.6 1492.7,210.0 1493.4,204.5 1494.0,199.1 1494.6,193.9 1495.3,188.8 1495.9,183.8 1496.6,179.1 1497.2,174.6 1497.8,170.3 1498.5,166.1 1499.1,162.0 1499.7,158.1 1500.4,154.2 1501.0,150.5 1501.7,146.9 1502.3,143.4 1502.9,140.1 1503.6,136.8 1504.2,133.7 1504.8,130.7 1505.5,127.9 1506.1,125.0 1506.8,122.2 1507.4,119.5 1508.0,116.8 1508.7,114.2 1509.3,111.6 1509.9,109.2 1510.6,106.9 1511.2,104.8 1511.9,102.8 1512.5,101.0 1513.1,99.3 1513.8,97.8 1514.4,96.4 1515.1,95.1 1515.7,93.9 1516.3,92.7 1517.0,91.6 1517.6,90.6 1518.2,89.6 1518.9,88.7 1519.5,87.8 1520.2,87.0 1520.8,86.2 1521.4,85.5 1522.1,84.8 1522.7,84.1 1523.3,83.4 1524.0,82.7 1524.6,82.0 1525.3,81.3 1525.9,80.7 1526.5,80.1 1527.2,79.5 1527.8,78.9 1528.5,78.3 1529.1,77.8 1529.7,77.3 1530.4,76.8 1531.0,76.4 1531.6,75.9 1532.3,75.6 1532.9,75.2 1533.6,74.9 1534.2,74.6 1534.8,74.4 1535.5,74.1 1536.1,74.0 1536.7,73.8 1537.4,73.6 1538.0,73.4 1538.7,73.3 1539.3,73.1 1539.9,73.0 1540.6,72.8 1541.2,72.7 1541.8,72.5 1542.5,72.4 1543.1,72.2 1543.8,72.1 1544.4,72.0 1545.0,71.8 1545.7,71.7 1546.3,71.6 1547.0,71.5 1547.6,71.4 1548.2,71.3 1548.9,71.2 1549.5,71.1 1550.1,71.0 1550.8,70.9 1551.4,70.8 1552.1,70.7 1552.7,70.6 1553.3,70.5 1554.0,70.5 1554.6,70.4 1555.2,70.3 1555.9,70.2 1556.5,70.2 1557.2,70.1 1557.8,70.0 1558.4,70.0 1559.1,69.9 1559.7,69.9 1560.4,69.8 1561.0,69.8 1561.6,69.7 1562.3,69.7 1562.9,69.6 1563.5,69.6 1564.2,69.5 1570.6,69.2 1576.9,68.9 1583.3,68.7 1589.7,68.5 1596.1,68.3 1602.5,68.2 1608.8,68.1 1615.2,67.9 1621.6,67.8 1628.0,67.7 1634.4,67.5 1640.7,67.4 1647.1,67.3 1653.5,67.2 1659.9,67.1 1666.3,67.0 1672.6,67.0 1679.0,66.9 1685.4,66.8 1691.8,66.8 1698.2,66.7 1704.5,66.7 1710.9,66.7 1717.3,66.7 1723.7,66.7 1730.1,66.7 1736.4,66.7 1742.8,66.7 1749.2,66.7 1755.6,66.7 1762.0,66.7 1768.3,66.8 1774.7,66.8 1781.1,66.8 1787.5,66.8 1793.9,66.8 1800.2,66.8 1806.6,66.9 1813.0,66.9 1819.4,66.9 1825.8,66.9 1832.1,66.9 1838.5,67.0 1844.9,67.0 1851.3,67.0 1857.7,67.0 1864.0,67.1 1870.4,67.1 1876.8,67.1 1883.2,67.1 1889.6,67.2 1895.9,67.2 1902.3,67.2 1908.7,67.2 1915.1,67.3 1921.5,67.3 1927.8,67.3 1934.2,67.3 1940.6,67.4 1947.0,67.4 1953.4,67.4 1959.7,67.4 1966.1,67.4 1972.5,67.5 1972.5,67.5" stroke="#000" stroke-width="3.2" stroke-linecap="round" stroke-dasharray="4.4,9.3"/>
<path d="M1462.1,455.7 1462.7,455.7 1463.4,455.7 1464.0,455.7 1464.7,455.7 1465.3,455.7 1465.9,455.7 1466.6,455.7 1467.2,455.7 1467.8,455.7 1468.5,455.7 1469.1,455.7 1469.8,455.7 1470.4,455.7 1471.0,455.7 1471.7,455.7 1472.3,455.4 1472.9,452.9 1473.6,448.5 1474.2,443.1 1474.9,437.7 1475.5,432.2 1476.1,426.0 1476.8,419.1 1477.4,411.9 1478.0,404.3 1478.7,396.4 1479.3,388.0 1480.0,379.0 1480.6,369.7 1481.2,360.2 1481.9,350.7 1482.5,340.7 1483.2,330.2 1483.8,319.6 1484.4,309.1 1485.1,299.0 1485.7,289.6 1486.3,280.6 1487.0,271.8 1487.6,263.3 1488.3,255.2 1488.9,247.5 1489.5,240.2 1490.2,233.2 1490.8,226.5 1491.4,220.1 1492.1,213.9 1492.7,207.8 1493.4,202.0 1494.0,196.2 1494.6,190.5 1495.3,184.8 1495.9,179.2 1496.6,173.7 1497.2,168.3 1497.8,163.2 1498.5,158.3 1499.1,153.7 1499.7,149.4 1500.4,145.4 1501.0,141.6 1501.7,137.9 1502.3,134.4 1502.9,130.9 1503.6,127.6 1504.2,124.5 1504.8,121.5 1505.5,118.7 1506.1,116.1 1506.8,113.6 1507.4,111.4 1508.0,109.3 1508.7,107.3 1509.3,105.3 1509.9,103.4 1510.6,101.6 1511.2,99.9 1511.9,98.2 1512.5,96.7 1513.1,95.2 1513.8,93.8 1514.4,92.5 1515.1,91.3 1515.7,90.2 1516.3,89.2 1517.0,88.3 1517.6,87.3 1518.2,86.4 1518.9,85.5 1519.5,84.7 1520.2,83.8 1520.8,83.0 1521.4,82.3 1522.1,81.5 1522.7,80.8 1523.3,80.2 1524.0,79.6 1524.6,79.0 1525.3,78.4 1525.9,77.9 1526.5,77.4 1527.2,77.0 1527.8,76.6 1528.5,76.2 1529.1,75.9 1529.7,75.5 1530.4,75.2 1531.0,74.9 1531.6,74.6 1532.3,74.2 1532.9,73.9 1533.6,73.6 1534.2,73.3 1534.8,73.1 1535.5,72.8 1536.1,72.5 1536.7,72.3 1537.4,72.1 1538.0,71.8 1538.7,71.6 1539.3,71.4 1539.9,71.2 1540.6,71.1 1541.2,70.9 1541.8,70.8 1542.5,70.6 1543.1,70.5 1543.8,70.4 1544.4,70.4 1545.0,70.3 1545.7,70.2 1546.3,70.2 1547.0,70.1 1547.6,70.1 1548.2,70.0 1548.9,70.0 1549.5,69.9 1550.1,69.9 1550.8,69.9 1551.4,69.8 1552.1,69.8 1552.7,69.7 1553.3,69.7 1554.0,69.6 1554.6,69.6 1555.2,69.6 1555.9,69.5 1556.5,69.5 1557.2,69.5 1557.8,69.4 1558.4,69.4 1559.1,69.4 1559.7,69.3 1560.4,69.3 1561.0,69.3 1561.6,69.3 1562.3,69.2 1562.9,69.2 1563.5,69.2 1564.2,69.2 1570.6,69.0 1576.9,69.0 1583.3,69.0 1589.7,69.0 1596.1,69.0 1602.5,69.0 1608.8,69.0 1615.2,69.0 1621.6,69.0 1628.0,69.0 1634.4,69.0 1640.7,69.0 1647.1,69.0 1653.5,69.0 1659.9,69.1 1666.3,69.1 1672.6,69.1 1679.0,69.1 1685.4,69.1 1691.8,69.1 1698.2,69.1 1704.5,69.1 1710.9,69.1 1717.3,69.1 1723.7,69.1 1730.1,69.1 1736.4,69.1 1742.8,69.2 1749.2,69.2 1755.6,69.2 1762.0,69.2 1768.3,69.2 1774.7,69.2 1781.1,69.2 1787.5,69.2 1793.9,69.2 1800.2,69.2 1806.6,69.3 1813.0,69.3 1819.4,69.3 1825.8,69.3 1832.1,69.3 1838.5,69.3 1844.9,69.3 1851.3,69.3 1857.7,69.3 1864.0,69.4 1870.4,69.4 1876.8,69.4 1883.2,69.4 1889.6,69.4 1895.9,69.4 1902.3,69.4 1908.7,69.4 1915.1,69.4 1921.5,69.4 1927.8,69.5 1934.2,69.5 1940.6,69.5 1947.0,69.5 1953.4,69.5 1959.7,69.5 1966.1,69.5 1972.5,69.5 1972.5,69.5" stroke="#858585" stroke-width="3"/>
</g>
<rect x="1462.1" y="44.6" width="510.4000000000001" height="411.09999999999997" fill="none" stroke="#505050" stroke-width="2.4"/>
<path d="M1454.10,455.70H1462.10M1457.60,430.01H1462.10M1454.10,404.31H1462.10M1457.60,378.62H1462.10M1454.10,352.93H1462.10M1457.60,327.23H1462.10M1454.10,301.54H1462.10M1457.60,275.84H1462.10M1454.10,250.15H1462.10M1457.60,224.46H1462.10M1454.10,198.76H1462.10M1457.60,173.07H1462.10M1454.10,147.38H1462.10M1457.60,121.68H1462.10M1454.10,95.99H1462.10M1457.60,70.29H1462.10M1454.10,44.60H1462.10M1462.10,455.70V463.20M1525.90,455.70V460.20M1589.70,455.70V463.20M1653.50,455.70V460.20M1717.30,455.70V463.20M1781.10,455.70V460.20M1844.90,455.70V463.20M1908.70,455.70V460.20M1972.50,455.70V463.20" stroke="#505050" stroke-width="2.4" fill="none"/>
<g font-family="'Liberation Sans', sans-serif" font-size="27.8" fill="#000">
<text text-anchor="end" transform="translate(1448.70,464.10) scale(1,1.045)">0.00</text>
<text text-anchor="end" transform="translate(1448.70,412.71) scale(1,1.045)">0.02</text>
<text text-anchor="end" transform="translate(1448.70,361.32) scale(1,1.045)">0.04</text>
<text text-anchor="end" transform="translate(1448.70,309.94) scale(1,1.045)">0.06</text>
<text text-anchor="end" transform="translate(1448.70,258.55) scale(1,1.045)">0.08</text>
<text text-anchor="end" transform="translate(1448.70,207.16) scale(1,1.045)">0.10</text>
<text text-anchor="end" transform="translate(1448.70,155.78) scale(1,1.045)">0.12</text>
<text text-anchor="end" transform="translate(1448.70,104.39) scale(1,1.045)">0.14</text>
<text text-anchor="end" transform="translate(1448.70,53.00) scale(1,1.045)">0.16</text>
<text text-anchor="middle" transform="translate(1462.10,490.30) scale(1,1.045)">0</text>
<text text-anchor="middle" transform="translate(1589.70,490.30) scale(1,1.045)">2</text>
<text text-anchor="middle" transform="translate(1717.30,490.30) scale(1,1.045)">4</text>
<text text-anchor="middle" transform="translate(1844.90,490.30) scale(1,1.045)">6</text>
<text text-anchor="middle" transform="translate(1972.50,490.30) scale(1,1.045)">8</text>
</g>
<text font-family="'Liberation Sans', sans-serif" font-size="35.4" transform="translate(1385.30,250.15) rotate(-90) scale(1,1.045)" text-anchor="middle">Moisture content (g/g)</text>
<text font-family="'Liberation Sans', sans-serif" font-size="35.4" text-anchor="middle" transform="translate(1717.30,544.90) scale(1,1.045)">t(h)<tspan font-size="23.6" dy="-14.16">1/2</tspan></text>
<text font-family="'Liberation Sans', sans-serif" font-size="35.4" transform="translate(1625.00,34.60) scale(1,1.045)">CNF TEMPO</text>
<text font-family="'Liberation Sans', sans-serif" font-size="43" transform="translate(1478.70,82.00) scale(1,1.045)">c</text>
<rect x="1724.50" y="348.80" width="242.30" height="102.60" rx="1.5" fill="#fff" stroke="#c6c6c6" stroke-width="1.8"/>
<path d="M1728.10,367.30H1789.50" stroke="#f21212" stroke-width="3.2" stroke-linecap="round"/>
<text font-family="'Liberation Sans', sans-serif" font-size="27.2" transform="translate(1795.70,376.50) scale(1,1.045)">Experiment</text>
<path d="M1728.80,400.40H1790.50" stroke="#000" stroke-width="3.4" stroke-linecap="round" stroke-dasharray="5.1,8.8"/>
<text font-family="'Liberation Sans', sans-serif" font-size="27.2" transform="translate(1795.70,409.60) scale(1,1.045)">Model</text>
<path d="M1728.10,433.40H1789.50" stroke="#858585" stroke-width="3.2" stroke-linecap="round"/>
<text font-family="'Liberation Sans', sans-serif" font-size="27.2" transform="translate(1795.70,442.60) scale(1,1.045)">Fickian model</text>
<clipPath id="clipd"><rect x="415.0" y="584.0" width="510.29999999999995" height="412.29999999999995"/></clipPath>
<g clip-path="url(#clipd)" fill="none" stroke-linejoin="round">
<path d="M453.3,720.9 453.9,720.2 454.5,719.4 455.2,718.6 455.8,717.8 456.5,717.1 457.1,716.5 457.7,716.1 458.4,715.9 459.0,715.9 459.7,715.9 460.3,715.9 460.9,715.9 461.6,716.0 462.2,716.0 462.8,716.0 463.5,716.0 464.1,716.0 464.8,716.0 465.4,716.1 466.0,716.1 466.7,716.1 467.3,716.1 467.9,716.2 468.6,716.2 469.2,716.2 469.9,716.3 470.5,716.3 471.1,716.3 471.8,716.4 472.4,716.4 473.0,716.4 473.7,716.5 474.3,716.5 475.0,716.5 475.6,716.6 476.2,716.6 476.9,716.7 477.5,716.7 478.1,716.8 478.8,717.4 479.4,717.8 480.1,717.9 480.7,717.7 481.3,717.6 482.0,717.8 482.6,717.5 483.3,717.3 483.9,717.4 484.5,717.7 485.2,717.4 485.8,717.8 486.4,717.8 487.1,718.2 487.7,717.7 488.4,717.9 489.0,718.0 489.6,718.3 490.3,717.9 490.9,717.9 491.5,718.1 492.2,717.9 492.8,717.6 493.5,717.6 494.1,717.4 494.7,716.8 495.4,716.7 496.0,716.5 496.6,715.9 497.3,715.8 497.9,716.0 498.6,715.2 499.2,715.0 499.8,714.9 500.5,714.7 501.1,714.7 501.8,714.8 502.4,714.8 503.0,714.7 503.7,714.4 504.3,714.3 504.9,714.5 505.6,714.0 506.2,714.0 506.9,714.1 507.5,713.6 508.1,713.0 508.8,713.0 509.4,712.9 510.0,712.6 510.7,712.5 511.3,712.6 512.0,712.4 512.6,713.1 513.2,713.1 513.9,713.0 514.5,713.3 515.1,713.4 515.8,712.9 516.4,712.5 517.1,712.5 519.6,711.6 522.2,711.0 524.7,710.5 527.3,710.7 529.8,710.8 532.4,710.3 534.9,710.4 537.5,710.5 540.0,710.1 542.6,709.5 545.1,709.6 547.7,709.4 550.2,709.1 552.8,709.2 555.3,708.9 557.9,709.2 560.4,708.9 563.0,708.4 565.5,708.5 568.1,709.2 570.6,708.6 573.2,708.0 575.7,708.6 578.3,708.4 580.8,707.5 583.4,707.8 586.0,708.6 588.5,708.3 591.1,707.7 593.6,707.9 596.2,707.5 598.7,707.3 601.3,707.4 603.8,707.5 606.4,707.6 608.9,707.6 611.5,707.8 614.0,707.7 616.6,707.2 619.1,706.8 621.7,706.8 624.2,706.2 626.8,706.0 629.3,706.3 631.9,706.1 634.4,705.9 637.0,706.3 639.5,705.9 642.1,705.9 644.6,706.3 647.2,706.5 649.7,706.2 652.3,706.0 654.8,706.1 657.4,705.7 659.9,706.0 662.5,705.8 665.0,706.0 667.6,705.7 670.2,705.9 672.7,705.2 675.3,705.0 677.8,705.1 680.4,704.5 682.9,704.2 685.5,704.4 688.0,704.6 690.6,704.8 693.1,705.3 695.7,705.4 698.2,705.1 700.8,705.5 703.3,705.3 705.9,705.5 708.4,705.8 711.0,705.6 713.5,704.8 716.1,704.9 718.6,704.6 721.2,704.6 723.7,703.9 726.3,704.1 728.8,704.5 731.4,704.7 733.9,704.4 736.5,705.7 739.0,705.8 741.6,705.6 744.1,705.1 746.7,704.8 749.2,705.1 751.8,705.2 754.3,705.5 756.9,705.5 759.5,705.7 762.0,704.8 764.6,705.1 767.1,704.2 769.7,703.9 772.2,704.3 774.8,704.3 777.3,704.2 779.9,704.7 782.4,705.6 785.0,704.8 787.5,705.1 790.1,705.0 792.6,704.9 795.2,704.7 797.7,705.3 800.3,705.2 802.8,705.2 805.4,705.6 807.9,705.6 810.5,705.7 813.0,705.6 815.6,705.6 818.1,705.5 820.7,705.2 823.2,705.3 825.8,705.3 828.3,705.6 830.9,705.7 833.4,706.4 836.0,706.2 838.5,706.6 841.1,706.7 843.7,706.5 846.2,706.1 848.8,706.5 851.3,706.8 853.9,706.5 856.4,706.6 859.0,707.2 861.5,706.9 864.1,706.6 866.6,707.1 869.2,707.1 871.7,706.9 874.3,707.1 876.8,707.3 879.4,706.6 881.9,706.8 884.5,707.2 887.0,707.2 889.6,706.9 892.1,707.3 894.7,707.3 897.2,706.9 899.8,707.0 902.3,707.2 904.9,707.1 907.4,707.2 910.0,707.5 912.5,707.5 915.1,707.3 917.6,707.5 920.2,707.7 922.7,707.3 925.3,707.4 925.3,707.5" stroke="#f21212" stroke-width="2.8"/>
<path d="M415.0,996.3 415.6,988.6 416.3,981.1 416.9,974.4 417.6,967.8 418.2,960.5 418.8,951.7 419.5,941.6 420.1,930.5 420.7,918.8 421.4,906.7 422.0,894.6 422.7,881.6 423.3,867.9 423.9,854.5 424.6,842.4 425.2,831.7 425.8,821.6 426.5,812.1 427.1,803.1 427.8,794.7 428.4,786.7 429.0,778.9 429.7,771.2 430.3,764.2 430.9,758.1 431.6,753.5 432.2,750.0 432.9,746.8 433.5,743.9 434.1,741.4 434.8,739.2 435.4,737.3 436.0,735.8 436.7,734.4 437.3,733.0 438.0,731.8 438.6,730.6 439.2,729.5 439.9,728.4 440.5,727.5 441.2,726.5 441.8,725.7 442.4,724.9 443.1,724.1 443.7,723.4 444.3,722.8 445.0,722.2 445.6,721.7 446.3,721.2 446.9,720.7 447.5,720.3 448.2,719.8 448.8,719.3 449.4,718.9 450.1,718.5 450.7,718.0 451.4,717.6 452.0,717.3 452.6,716.9 453.3,716.6 453.9,716.3 454.5,716.0 455.2,715.8 455.8,715.6 456.5,715.5 457.1,715.3 457.7,715.3 458.4,715.2 459.0,715.2 459.7,715.3 460.3,715.3 460.9,715.3 461.6,715.3 462.2,715.3 462.8,715.4 463.5,715.4 464.1,715.5 464.8,715.5 465.4,715.5 466.0,715.6 466.7,715.7 467.3,715.7 467.9,715.8 468.6,715.8 469.2,715.9 469.9,716.0 470.5,716.0 471.1,716.1 471.8,716.2 472.4,716.2 473.0,716.3 473.7,716.4 474.3,716.4 475.0,716.5 475.6,716.5 476.2,716.6 476.9,716.7 477.5,716.8 478.1,716.9 478.8,716.9 479.4,717.6 480.1,717.1 480.7,715.6 481.3,715.4 482.0,715.9 482.6,715.6 483.3,716.4 483.9,717.1 484.5,717.7 485.2,717.4 485.8,719.0 486.4,718.3 487.1,718.7 487.7,718.7 488.4,718.1 489.0,717.0 489.6,717.2 490.3,717.4 490.9,716.9 491.5,717.5 492.2,717.4 492.8,716.9 493.5,716.7 494.1,716.8 494.7,716.7 495.4,717.4 496.0,717.8 496.6,717.4 497.3,716.6 497.9,715.7 498.6,715.3 499.2,714.6 499.8,714.6 500.5,713.8 501.1,714.2 501.8,713.5 502.4,713.9 503.0,713.9 503.7,714.6 504.3,714.6 504.9,714.5 505.6,714.7 506.2,714.0 506.9,714.3 507.5,713.4 508.1,713.5 508.8,712.4 509.4,713.1 510.0,712.5 510.7,713.5 511.3,713.5 512.0,713.8 512.6,713.3 513.2,713.3 513.9,712.5 514.5,711.9 515.1,711.9 515.8,712.3 516.4,712.6 517.1,712.9 519.6,713.7 522.2,713.1 524.7,712.4 527.3,711.9 529.8,711.2 532.4,709.8 534.9,709.8 537.5,709.9 540.0,709.5 542.6,709.6 545.1,710.0 547.7,709.5 550.2,708.8 552.8,709.6 555.3,709.5 557.9,709.5 560.4,709.4 563.0,709.1 565.5,708.7 568.1,709.0 570.6,708.3 573.2,708.8 575.7,708.4 578.3,707.5 580.8,707.2 583.4,706.9 586.0,707.5 588.5,707.9 591.1,707.8 593.6,707.6 596.2,708.1 598.7,706.9 601.3,706.2 603.8,706.4 606.4,706.7 608.9,705.7 611.5,706.6 614.0,707.1 616.6,707.4 619.1,706.4 621.7,707.3 624.2,705.9 626.8,705.9 629.3,706.3 631.9,707.4 634.4,707.1 637.0,707.0 639.5,707.0 642.1,706.2 644.6,705.4 647.2,704.9 649.7,705.2 652.3,705.1 654.8,705.5 657.4,704.9 659.9,704.6 662.5,705.2 665.0,704.3 667.6,703.6 670.2,704.3 672.7,705.6 675.3,704.8 677.8,705.4 680.4,706.0 682.9,706.5 685.5,705.2 688.0,705.7 690.6,706.1 693.1,704.7 695.7,703.0 698.2,703.1 700.8,703.0 703.3,702.6 705.9,704.6 708.4,705.5 711.0,706.1 713.5,706.5 716.1,707.4 718.6,706.2 721.2,706.2 723.7,705.8 726.3,704.9 728.8,704.6 731.4,705.3 733.9,706.1 736.5,706.3 739.0,706.3 741.6,706.0 744.1,705.2 746.7,704.9 749.2,705.0 751.8,705.6 754.3,706.0 756.9,705.5 759.5,704.7 762.0,704.8 764.6,704.8 767.1,704.3 769.7,705.6 772.2,705.8 774.8,706.0 777.3,705.8 779.9,706.2 782.4,705.8 785.0,706.5 787.5,706.6 790.1,706.9 792.6,706.7 795.2,706.6 797.7,706.1 800.3,704.8 802.8,704.0 805.4,703.9 807.9,703.4 810.5,703.7 813.0,703.8 815.6,703.9 818.1,704.3 820.7,704.3 823.2,703.7 825.8,705.3 828.3,705.9 830.9,705.5 833.4,706.6 836.0,707.4 838.5,706.6 841.1,706.1 843.7,705.8 846.2,703.9 848.8,703.6 851.3,702.8 853.9,702.9 856.4,702.9 859.0,704.5 861.5,705.1 864.1,705.9 866.6,705.6 869.2,705.1 871.7,704.3 874.3,703.3 876.8,703.4 879.4,703.0 881.9,703.1 884.5,703.6 887.0,703.8 889.6,703.9 892.1,703.9 894.7,704.3 897.2,704.1 899.8,703.9 902.3,703.3 904.9,704.0 907.4,704.7 910.0,705.2 912.5,706.1 915.1,706.1 917.6,705.0 920.2,705.2 922.7,704.6 925.3,703.8 925.3,704.0" stroke="#000" stroke-width="3.2" stroke-linecap="round" stroke-dasharray="4.4,9.3"/>
<path d="M415.0,996.3 415.6,994.5 416.3,992.9 416.9,991.5 417.6,990.2 418.2,989.0 418.8,987.6 419.5,986.0 420.1,984.2 420.7,982.0 421.4,979.4 422.0,976.2 422.7,972.4 423.3,961.8 423.9,941.7 424.6,916.6 425.2,891.3 425.8,869.0 426.5,844.9 427.1,820.8 427.8,800.0 428.4,785.3 429.0,774.0 429.7,764.3 430.3,756.4 430.9,750.1 431.6,745.1 432.2,741.1 432.9,738.5 433.5,736.6 434.1,734.8 434.8,733.3 435.4,731.9 436.0,730.7 436.7,729.6 437.3,728.7 438.0,727.9 438.6,727.1 439.2,726.5 439.9,725.9 440.5,725.3 441.2,724.7 441.8,724.2 442.4,723.8 443.1,723.4 443.7,723.0 444.3,722.7 445.0,722.4 445.6,722.2 446.3,722.0 446.9,721.9 447.5,721.7 448.2,721.6 448.8,721.5 449.4,721.4 450.1,721.3 450.7,721.2 451.4,721.1 452.0,721.0 452.6,720.9 453.3,720.9 453.9,720.8 454.5,720.8 455.2,720.7 455.8,720.7 456.5,720.7 457.1,720.7 457.7,720.7 458.4,720.7 459.0,720.7 459.7,720.7 460.3,720.7 460.9,720.7 461.6,720.7 462.2,720.7 462.8,720.7 463.5,720.7 464.1,720.7 464.8,720.7 465.4,720.7 466.0,720.7 466.7,720.7 467.3,720.7 467.9,720.7 468.6,720.7 469.2,720.7 469.9,720.7 470.5,720.7 471.1,720.7 471.8,720.7 472.4,720.7 473.0,720.7 473.7,720.7 474.3,720.7 475.0,720.7 475.6,720.7 476.2,720.7 476.9,720.7 477.5,720.7 478.1,720.7 478.8,720.7 479.4,720.7 480.1,720.7 480.7,720.7 481.3,720.7 482.0,720.7 482.6,720.7 483.3,720.7 483.9,720.7 484.5,720.7 485.2,720.7 485.8,720.7 486.4,720.7 487.1,720.7 487.7,720.7 488.4,720.7 489.0,720.7 489.6,720.7 490.3,720.7 490.9,720.7 491.5,720.7 492.2,720.7 492.8,720.7 493.5,720.7 494.1,720.7 494.7,720.7 495.4,720.7 496.0,720.7 496.6,720.7 497.3,720.7 497.9,720.7 498.6,720.7 499.2,720.7 499.8,720.7 500.5,720.7 501.1,720.7 501.8,720.7 502.4,720.7 503.0,720.7 503.7,720.7 504.3,720.7 504.9,720.7 505.6,720.7 506.2,720.7 506.9,720.7 507.5,720.7 508.1,720.7 508.8,720.7 509.4,720.7 510.0,720.7 510.7,720.7 511.3,720.7 512.0,720.7 512.6,720.7 513.2,720.7 513.9,720.7 514.5,720.7 515.1,720.7 515.8,720.7 516.4,720.7 517.1,720.7 523.4,720.7 529.8,720.7 536.2,720.7 542.6,720.7 549.0,720.7 555.3,720.7 561.7,720.7 568.1,720.7 574.5,720.7 580.8,720.7 587.2,720.7 593.6,720.7 600.0,720.7 606.4,720.7 612.7,720.7 619.1,720.7 625.5,720.7 631.9,720.7 638.3,720.7 644.6,720.7 651.0,720.7 657.4,720.7 663.8,720.7 670.2,720.7 676.5,720.7 682.9,720.7 689.3,720.7 695.7,720.7 702.0,720.7 708.4,720.7 714.8,720.7 721.2,720.7 727.6,720.7 733.9,720.7 740.3,720.7 746.7,720.7 753.1,720.7 759.5,720.7 765.8,720.7 772.2,720.7 778.6,720.7 785.0,720.7 791.3,720.7 797.7,720.7 804.1,720.7 810.5,720.7 816.9,720.7 823.2,720.7 829.6,720.7 836.0,720.7 842.4,720.7 848.8,720.7 855.1,720.7 861.5,720.7 867.9,720.7 874.3,720.7 880.6,720.7 887.0,720.7 893.4,720.7 899.8,720.7 906.2,720.7 912.5,720.7 918.9,720.7 925.3,720.7 925.3,720.7" stroke="#858585" stroke-width="3"/>
</g>
<rect x="415.0" y="586.0" width="510.29999999999995" height="410.29999999999995" fill="none" stroke="#505050" stroke-width="2.4"/>
<path d="M407.00,996.30H415.00M410.50,962.11H415.00M407.00,927.92H415.00M410.50,893.72H415.00M407.00,859.53H415.00M410.50,825.34H415.00M407.00,791.15H415.00M410.50,756.96H415.00M407.00,722.77H415.00M410.50,688.58H415.00M407.00,654.38H415.00M410.50,620.19H415.00M407.00,586.00H415.00M415.00,996.30V1003.80M478.79,996.30V1000.80M542.58,996.30V1003.80M606.36,996.30V1000.80M670.15,996.30V1003.80M733.94,996.30V1000.80M797.72,996.30V1003.80M861.51,996.30V1000.80M925.30,996.30V1003.80" stroke="#505050" stroke-width="2.4" fill="none"/>
<g font-family="'Liberation Sans', sans-serif" font-size="27.8" fill="#000">
<text text-anchor="end" transform="translate(401.60,1004.70) scale(1,1.045)">0.000</text>
<text text-anchor="end" transform="translate(401.60,936.32) scale(1,1.045)">0.001</text>
<text text-anchor="end" transform="translate(401.60,867.93) scale(1,1.045)">0.002</text>
<text text-anchor="end" transform="translate(401.60,799.55) scale(1,1.045)">0.003</text>
<text text-anchor="end" transform="translate(401.60,731.17) scale(1,1.045)">0.004</text>
<text text-anchor="end" transform="translate(401.60,662.78) scale(1,1.045)">0.005</text>
<text text-anchor="end" transform="translate(401.60,594.40) scale(1,1.045)">0.006</text>
<text text-anchor="middle" transform="translate(415.00,1030.90) scale(1,1.045)">0</text>
<text text-anchor="middle" transform="translate(542.58,1030.90) scale(1,1.045)">2</text>
<text text-anchor="middle" transform="translate(670.15,1030.90) scale(1,1.045)">4</text>
<text text-anchor="middle" transform="translate(797.72,1030.90) scale(1,1.045)">6</text>
<text text-anchor="middle" transform="translate(925.30,1030.90) scale(1,1.045)">8</text>
</g>
<text font-family="'Liberation Sans', sans-serif" font-size="35.4" transform="translate(323.90,791.15) rotate(-90) scale(1,1.045)" text-anchor="middle">Moisture content (g/g)</text>
<text font-family="'Liberation Sans', sans-serif" font-size="35.4" text-anchor="middle" transform="translate(670.15,1085.50) scale(1,1.045)">t(h)<tspan font-size="23.6" dy="-14.16">1/2</tspan></text>
<text font-family="'Liberation Sans', sans-serif" font-size="35.4" transform="translate(636.6,577.9) scale(1,1.045)">PLA<tspan dy="-3.83">(1)</tspan></text>
<text font-family="'Liberation Sans', sans-serif" font-size="45.5" transform="translate(429.70,626.40) scale(1,1.045)">d</text>
<rect x="677.40" y="888.50" width="241.50" height="103.10" rx="1.5" fill="#fff" stroke="#c6c6c6" stroke-width="1.8"/>
<path d="M681.00,907.00H742.40" stroke="#f21212" stroke-width="3.2" stroke-linecap="round"/>
<text font-family="'Liberation Sans', sans-serif" font-size="27.2" transform="translate(748.60,916.20) scale(1,1.045)">Experiment</text>
<path d="M681.70,940.10H743.40" stroke="#000" stroke-width="3.4" stroke-linecap="round" stroke-dasharray="5.1,8.8"/>
<text font-family="'Liberation Sans', sans-serif" font-size="27.2" transform="translate(748.60,949.30) scale(1,1.045)">Model</text>
<path d="M681.00,973.10H742.40" stroke="#858585" stroke-width="3.2" stroke-linecap="round"/>
<text font-family="'Liberation Sans', sans-serif" font-size="27.2" transform="translate(748.60,982.30) scale(1,1.045)">Fickian model</text>
<clipPath id="clipe"><rect x="1112.2" y="590.0" width="509.20000000000005" height="411.70000000000005"/></clipPath>
<g clip-path="url(#clipe)" fill="none" stroke-linejoin="round">
<path d="M1175.9,659.1 1176.5,659.1 1177.1,659.1 1177.8,659.1 1178.4,659.1 1179.0,659.0 1179.7,659.0 1180.3,659.0 1180.9,659.0 1181.6,658.9 1182.2,658.9 1182.9,658.9 1183.5,658.9 1184.1,658.8 1184.8,658.8 1185.4,658.8 1186.0,658.7 1186.7,658.7 1187.3,658.6 1187.9,658.6 1188.6,658.6 1189.2,658.5 1189.9,658.5 1190.5,658.4 1191.1,658.4 1191.8,658.3 1192.4,658.3 1193.0,658.3 1193.7,658.2 1194.3,658.2 1194.9,658.1 1195.6,658.0 1196.2,658.0 1196.9,657.9 1197.5,657.9 1198.1,657.8 1198.8,657.8 1199.4,657.7 1200.0,657.7 1200.7,657.6 1201.3,657.5 1201.9,657.5 1202.6,657.4 1203.2,657.4 1203.9,657.3 1204.5,657.2 1205.1,657.2 1205.8,657.1 1206.4,657.1 1207.0,657.0 1207.7,656.9 1208.3,656.9 1208.9,656.8 1209.6,656.7 1210.2,656.7 1210.9,656.6 1211.5,656.6 1212.1,656.5 1212.8,656.4 1213.4,656.4 1214.0,656.3 1214.0,656.3 1220.4,655.7 1226.8,655.1 1233.1,654.6 1239.5,654.1 1245.9,653.8 1252.2,653.5 1258.6,653.2 1265.0,652.9 1271.3,652.7 1277.7,652.4 1284.1,652.2 1290.4,651.9 1296.8,651.7 1303.2,651.4 1309.5,651.1 1315.9,650.9 1322.2,650.6 1328.6,650.3 1335.0,650.0 1341.3,649.8 1347.7,649.5 1354.1,649.2 1360.4,648.9 1366.8,648.7 1373.2,648.4 1379.5,648.1 1385.9,647.7 1392.3,647.4 1398.6,647.1 1405.0,646.8 1411.4,646.7 1417.7,646.6 1424.1,646.8 1430.5,647.3 1436.8,648.0 1443.2,648.6 1449.5,649.2 1455.9,649.4 1462.3,649.2 1468.6,648.8 1475.0,648.2 1481.4,647.6 1487.7,647.1 1494.1,646.6 1500.5,646.4 1506.8,646.3 1513.2,646.1 1519.6,645.9 1525.9,645.4 1532.3,640.8 1538.7,641.0 1545.0,640.5 1551.4,641.5 1557.8,643.2 1564.1,644.8 1570.5,650.7 1576.8,651.3 1583.2,651.4 1589.6,650.9 1595.9,650.0 1602.3,649.4 1608.7,648.7 1615.0,648.0 1621.4,647.3 1621.4,647.3" stroke="#f21212" stroke-width="2.8"/>
<path d="M1112.2,1001.7 1112.8,995.2 1113.5,988.8 1114.1,981.9 1114.7,974.4 1115.4,966.5 1116.0,958.1 1116.7,949.3 1117.3,940.2 1117.9,930.7 1118.6,920.9 1119.2,910.3 1119.8,898.9 1120.5,886.4 1121.1,871.7 1121.7,855.3 1122.4,838.2 1123.0,820.4 1123.7,801.1 1124.3,782.1 1124.9,765.4 1125.6,750.6 1126.2,736.3 1126.8,723.2 1127.5,712.4 1128.1,704.7 1128.7,699.0 1129.4,694.0 1130.0,689.5 1130.7,685.6 1131.3,682.4 1131.9,679.8 1132.6,677.8 1133.2,676.4 1133.8,675.2 1134.5,674.1 1135.1,673.1 1135.8,672.2 1136.4,671.5 1137.0,670.8 1137.7,670.1 1138.3,669.5 1138.9,669.0 1139.6,668.5 1140.2,668.0 1140.8,667.5 1141.5,667.0 1142.1,666.5 1142.8,666.0 1143.4,665.6 1144.0,665.2 1144.7,664.8 1145.3,664.4 1145.9,664.0 1146.6,663.7 1147.2,663.4 1147.8,663.1 1148.5,662.9 1149.1,662.7 1149.8,662.5 1150.4,662.3 1151.0,662.2 1151.7,662.1 1152.3,662.0 1152.9,661.9 1153.6,661.7 1154.2,661.6 1154.8,661.5 1155.5,661.4 1156.1,661.3 1156.8,661.3 1157.4,661.2 1158.0,661.1 1158.7,661.0 1159.3,660.9 1159.9,660.9 1160.6,660.8 1161.2,660.7 1161.8,660.7 1162.5,660.6 1163.1,660.5 1163.8,660.5 1164.4,660.4 1165.0,660.4 1165.7,660.3 1166.3,660.2 1166.9,660.2 1167.6,660.1 1168.2,660.1 1168.8,660.0 1169.5,660.0 1170.1,659.9 1170.8,659.9 1171.4,659.8 1172.0,659.8 1172.7,659.7 1173.3,659.7 1173.9,659.7 1174.6,659.6 1175.2,659.6 1175.9,659.5 1176.5,659.5 1177.1,659.4 1177.8,659.3 1178.4,659.3 1179.0,659.2 1179.7,659.2 1180.3,659.1 1180.9,659.0 1181.6,659.0 1182.2,658.9 1182.9,658.8 1183.5,658.8 1184.1,658.7 1184.8,658.6 1185.4,658.6 1186.0,658.5 1186.7,658.4 1187.3,658.4 1187.9,658.3 1188.6,658.2 1189.2,658.1 1189.9,658.1 1190.5,658.0 1191.1,657.9 1191.8,657.8 1192.4,657.8 1193.0,657.7 1193.7,657.6 1194.3,657.5 1194.9,657.5 1195.6,657.4 1196.2,657.3 1196.9,657.2 1197.5,657.1 1198.1,657.1 1198.8,657.0 1199.4,656.9 1200.0,656.8 1200.7,656.8 1201.3,656.7 1201.9,656.6 1202.6,656.5 1203.2,656.4 1203.9,656.4 1204.5,656.3 1205.1,656.2 1205.8,656.1 1206.4,656.1 1207.0,656.0 1207.7,655.9 1208.3,655.8 1208.9,655.7 1209.6,655.7 1210.2,655.6 1210.9,655.5 1211.5,655.4 1212.1,655.4 1212.8,655.3 1213.4,655.2 1214.0,655.1 1220.4,654.4 1226.8,653.8 1233.1,653.2 1239.5,652.8 1245.9,652.4 1252.2,652.1 1258.6,651.8 1265.0,651.5 1271.3,651.3 1277.7,651.0 1284.1,650.8 1290.4,650.5 1296.8,650.3 1303.2,650.0 1309.5,649.8 1315.9,649.4 1322.2,649.1 1328.6,648.8 1335.0,648.5 1341.3,648.2 1347.7,647.9 1354.1,647.6 1360.4,647.4 1366.8,647.3 1373.2,647.2 1379.5,647.1 1385.9,647.0 1392.3,646.9 1398.6,646.8 1405.0,646.8 1411.4,646.7 1417.7,646.7 1424.1,646.6 1430.5,646.6 1436.8,646.6 1443.2,646.6 1449.5,646.6 1455.9,646.6 1462.3,646.6 1468.6,646.6 1475.0,646.6 1481.4,646.6 1487.7,646.6 1494.1,646.6 1500.5,646.6 1506.8,646.5 1513.2,646.4 1519.6,646.3 1525.9,646.2 1532.3,646.1 1538.7,646.0 1545.0,646.0 1551.4,645.9 1557.8,646.6 1564.1,649.6 1570.5,649.0 1576.8,646.5 1583.2,646.4 1589.6,646.2 1595.9,646.2 1602.3,646.1 1608.7,646.1 1615.0,646.0 1621.4,645.9 1621.4,645.9" stroke="#000" stroke-width="3.2" stroke-linecap="round" stroke-dasharray="4.4,9.3"/>
<path d="M1112.2,1001.7 1112.8,1001.7 1113.5,1001.7 1114.1,1001.7 1114.7,1001.7 1115.4,1001.7 1116.0,1001.7 1116.7,1001.7 1117.3,1001.7 1117.9,1001.7 1118.6,1001.7 1119.2,1001.7 1119.8,991.9 1120.5,967.0 1121.1,934.1 1121.7,900.1 1122.4,872.0 1123.0,849.5 1123.7,827.9 1124.3,807.3 1124.9,787.8 1125.6,769.5 1126.2,752.3 1126.8,736.2 1127.5,721.5 1128.1,708.4 1128.7,696.0 1129.4,687.6 1130.0,683.1 1130.7,679.6 1131.3,677.0 1131.9,675.3 1132.6,674.1 1133.2,673.0 1133.8,672.1 1134.5,671.3 1135.1,670.6 1135.8,670.0 1136.4,669.4 1137.0,668.9 1137.7,668.5 1138.3,668.0 1138.9,667.6 1139.6,667.2 1140.2,666.7 1140.8,666.4 1141.5,666.0 1142.1,665.6 1142.8,665.3 1143.4,664.9 1144.0,664.6 1144.7,664.3 1145.3,664.0 1145.9,663.8 1146.6,663.5 1147.2,663.3 1147.8,663.0 1148.5,662.8 1149.1,662.7 1149.8,662.5 1150.4,662.3 1151.0,662.2 1151.7,662.0 1152.3,661.9 1152.9,661.8 1153.6,661.7 1154.2,661.5 1154.8,661.4 1155.5,661.3 1156.1,661.2 1156.8,661.1 1157.4,661.0 1158.0,660.9 1158.7,660.8 1159.3,660.7 1159.9,660.6 1160.6,660.5 1161.2,660.4 1161.8,660.4 1162.5,660.3 1163.1,660.2 1163.8,660.1 1164.4,660.1 1165.0,660.0 1165.7,659.9 1166.3,659.9 1166.9,659.8 1167.6,659.8 1168.2,659.7 1168.8,659.6 1169.5,659.6 1170.1,659.6 1170.8,659.5 1171.4,659.5 1172.0,659.4 1172.7,659.4 1173.3,659.3 1173.9,659.3 1174.6,659.2 1175.2,659.2 1175.9,659.1 1176.5,659.1 1177.1,659.1 1177.8,659.0 1178.4,659.0 1179.0,659.0 1179.7,659.0 1180.3,658.9 1180.9,658.9 1181.6,658.9 1182.2,658.9 1182.9,658.9 1183.5,658.9 1184.1,658.9 1184.8,658.9 1185.4,658.9 1186.0,658.9 1186.7,658.9 1187.3,658.9 1187.9,658.9 1188.6,658.9 1189.2,658.9 1189.9,658.9 1190.5,658.9 1191.1,658.9 1191.8,658.9 1192.4,658.9 1193.0,658.9 1193.7,658.9 1194.3,658.9 1194.9,658.9 1195.6,658.9 1196.2,658.9 1196.9,658.9 1197.5,658.9 1198.1,658.9 1198.8,658.9 1199.4,658.9 1200.0,658.9 1200.7,658.9 1201.3,658.9 1201.9,658.9 1202.6,658.9 1203.2,658.9 1203.9,658.9 1204.5,658.9 1205.1,658.9 1205.8,658.9 1206.4,658.9 1207.0,658.9 1207.7,658.9 1208.3,658.9 1208.9,658.9 1209.6,658.9 1210.2,658.9 1210.9,658.9 1211.5,658.9 1212.1,658.9 1212.8,658.9 1213.4,658.9 1214.0,658.9 1220.4,658.9 1226.8,658.9 1233.1,658.9 1239.5,658.9 1245.9,658.9 1252.2,658.9 1258.6,658.9 1265.0,658.9 1271.3,658.9 1277.7,658.9 1284.1,658.9 1290.4,658.9 1296.8,658.9 1303.2,658.9 1309.5,658.9 1315.9,658.9 1322.2,658.9 1328.6,658.9 1335.0,658.9 1341.3,658.9 1347.7,658.9 1354.1,658.9 1360.4,658.9 1366.8,658.9 1373.2,658.9 1379.5,658.9 1385.9,658.9 1392.3,658.9 1398.6,658.9 1405.0,658.9 1411.4,658.9 1417.7,658.9 1424.1,658.9 1430.5,658.9 1436.8,658.9 1443.2,658.9 1449.5,658.9 1455.9,658.9 1462.3,658.9 1468.6,658.9 1475.0,658.9 1481.4,658.9 1487.7,658.9 1494.1,658.9 1500.5,658.9 1506.8,658.9 1513.2,658.9 1519.6,658.9 1525.9,658.9 1532.3,658.9 1538.7,658.9 1545.0,658.9 1551.4,658.9 1557.8,658.9 1564.1,658.9 1570.5,658.9 1576.8,658.9 1583.2,658.9 1589.6,658.9 1595.9,658.9 1602.3,658.9 1608.7,658.9 1615.0,658.9 1621.4,658.9 1621.4,658.9" stroke="#858585" stroke-width="3"/>
</g>
<rect x="1112.2" y="592.0" width="509.20000000000005" height="409.70000000000005" fill="none" stroke="#505050" stroke-width="2.4"/>
<path d="M1104.20,1001.70H1112.20M1107.70,967.56H1112.20M1104.20,933.42H1112.20M1107.70,899.28H1112.20M1104.20,865.13H1112.20M1107.70,830.99H1112.20M1104.20,796.85H1112.20M1107.70,762.71H1112.20M1104.20,728.57H1112.20M1107.70,694.42H1112.20M1104.20,660.28H1112.20M1107.70,626.14H1112.20M1104.20,592.00H1112.20M1112.20,1001.70V1009.20M1175.85,1001.70V1006.20M1239.50,1001.70V1009.20M1303.15,1001.70V1006.20M1366.80,1001.70V1009.20M1430.45,1001.70V1006.20M1494.10,1001.70V1009.20M1557.75,1001.70V1006.20M1621.40,1001.70V1009.20" stroke="#505050" stroke-width="2.4" fill="none"/>
<g font-family="'Liberation Sans', sans-serif" font-size="27.8" fill="#000">
<text text-anchor="end" transform="translate(1098.80,1010.10) scale(1,1.045)">0.000</text>
<text text-anchor="end" transform="translate(1098.80,941.82) scale(1,1.045)">0.001</text>
<text text-anchor="end" transform="translate(1098.80,873.53) scale(1,1.045)">0.002</text>
<text text-anchor="end" transform="translate(1098.80,805.25) scale(1,1.045)">0.003</text>
<text text-anchor="end" transform="translate(1098.80,736.97) scale(1,1.045)">0.004</text>
<text text-anchor="end" transform="translate(1098.80,668.68) scale(1,1.045)">0.005</text>
<text text-anchor="end" transform="translate(1098.80,600.40) scale(1,1.045)">0.006</text>
<text text-anchor="middle" transform="translate(1112.20,1036.30) scale(1,1.045)">0</text>
<text text-anchor="middle" transform="translate(1239.50,1036.30) scale(1,1.045)">2</text>
<text text-anchor="middle" transform="translate(1366.80,1036.30) scale(1,1.045)">4</text>
<text text-anchor="middle" transform="translate(1494.10,1036.30) scale(1,1.045)">6</text>
<text text-anchor="middle" transform="translate(1621.40,1036.30) scale(1,1.045)">8</text>
</g>
<text font-family="'Liberation Sans', sans-serif" font-size="35.4" text-anchor="middle" transform="translate(1366.80,1090.90) scale(1,1.045)">t(h)<tspan font-size="23.6" dy="-14.16">1/2</tspan></text>
<text font-family="'Liberation Sans', sans-serif" font-size="35.4" transform="translate(1305.00,582.90) scale(1,1.045)">PLA(CS)</text>
<text font-family="'Liberation Sans', sans-serif" font-size="43" transform="translate(1129.60,626.50) scale(1,1.045)">e</text>
<rect x="1373.10" y="893.20" width="242.10" height="102.70" rx="1.5" fill="#fff" stroke="#c6c6c6" stroke-width="1.8"/>
<path d="M1376.70,911.70H1438.10" stroke="#f21212" stroke-width="3.2" stroke-linecap="round"/>
<text font-family="'Liberation Sans', sans-serif" font-size="27.2" transform="translate(1444.30,920.90) scale(1,1.045)">Experiment</text>
<path d="M1377.40,944.80H1439.10" stroke="#000" stroke-width="3.4" stroke-linecap="round" stroke-dasharray="5.1,8.8"/>
<text font-family="'Liberation Sans', sans-serif" font-size="27.2" transform="translate(1444.30,954.00) scale(1,1.045)">Model</text>
<path d="M1376.70,977.80H1438.10" stroke="#858585" stroke-width="3.2" stroke-linecap="round"/>
<text font-family="'Liberation Sans', sans-serif" font-size="27.2" transform="translate(1444.30,987.00) scale(1,1.045)">Fickian model</text>
<clipPath id="clipf"><rect x="122.2" y="1172.6" width="510.3" height="414.20000000000005"/></clipPath>
<g clip-path="url(#clipf)" fill="none" stroke-linejoin="round">
<path d="M162.4,1279.0 163.0,1278.3 163.7,1278.0 164.3,1277.7 164.9,1277.4 165.6,1277.1 166.2,1276.9 166.9,1276.6 167.5,1276.4 168.1,1276.2 168.8,1276.0 169.4,1275.8 170.0,1275.6 170.7,1275.4 171.3,1275.3 172.0,1275.1 172.6,1275.0 173.2,1274.8 173.9,1274.7 174.5,1274.6 175.1,1274.5 175.8,1274.4 176.4,1274.2 177.1,1274.1 177.7,1274.1 178.3,1274.0 179.0,1273.9 179.6,1273.8 180.2,1273.7 180.9,1273.6 181.5,1273.5 182.2,1273.4 182.8,1273.4 183.4,1273.3 184.1,1273.2 184.7,1273.1 185.3,1273.0 186.0,1273.1 186.6,1273.2 187.3,1273.2 187.9,1272.8 188.5,1272.9 189.2,1272.8 189.8,1272.5 190.5,1272.3 191.1,1272.3 191.7,1272.0 192.4,1271.7 193.0,1271.6 193.6,1271.6 194.3,1271.4 194.9,1271.4 195.6,1271.3 196.2,1271.4 196.8,1271.1 197.5,1271.1 198.1,1271.1 198.7,1271.2 199.4,1271.0 200.0,1271.0 200.7,1271.0 201.3,1270.9 201.9,1270.8 202.6,1270.8 203.2,1270.7 203.8,1270.4 204.5,1270.4 205.1,1270.3 205.8,1270.0 206.4,1270.0 207.0,1270.1 207.7,1269.7 208.3,1269.6 209.0,1269.6 209.6,1269.6 210.2,1269.6 210.9,1269.6 211.5,1269.7 212.1,1269.6 212.8,1269.5 213.4,1269.4 214.1,1269.5 214.7,1269.3 215.3,1269.2 216.0,1269.3 216.6,1269.0 217.2,1268.7 217.9,1268.7 218.5,1268.6 219.2,1268.4 219.8,1268.4 220.4,1268.5 221.1,1268.3 221.7,1268.7 222.3,1268.7 223.0,1268.6 223.6,1268.8 224.3,1268.8 226.8,1268.4 229.4,1268.1 231.9,1267.9 234.5,1267.4 237.0,1267.1 239.6,1266.7 242.1,1266.7 244.7,1266.6 247.2,1266.0 249.8,1265.8 252.3,1265.6 254.9,1265.1 257.4,1264.5 260.0,1264.3 262.5,1264.0 265.1,1263.7 267.6,1263.6 270.2,1263.5 272.7,1263.8 275.3,1263.8 277.8,1263.8 280.4,1264.2 282.9,1264.8 285.5,1264.9 288.0,1264.8 290.6,1265.2 293.2,1265.2 295.7,1264.7 298.3,1264.8 300.8,1265.1 303.4,1264.9 305.9,1264.5 308.5,1264.4 311.0,1264.1 313.6,1263.9 316.1,1263.9 318.7,1263.8 321.2,1263.7 323.8,1263.6 326.3,1263.6 328.9,1263.5 331.4,1263.1 334.0,1262.8 336.5,1262.6 339.1,1262.2 341.6,1262.0 344.2,1262.0 346.7,1261.8 349.3,1261.6 351.8,1261.7 354.4,1261.3 356.9,1261.2 359.5,1261.3 362.0,1261.3 364.6,1261.0 367.1,1260.7 369.7,1260.7 372.2,1260.4 374.8,1260.4 377.4,1260.2 379.9,1260.2 382.5,1259.9 385.0,1259.9 387.6,1259.4 390.1,1259.2 392.7,1259.0 395.2,1258.6 397.8,1258.3 400.3,1258.3 402.9,1258.2 405.4,1258.2 408.0,1258.3 410.5,1258.2 413.1,1257.9 415.6,1258.0 418.2,1257.8 420.7,1257.7 423.3,1257.8 425.8,1257.6 428.4,1257.1 430.9,1257.0 433.5,1256.8 436.0,1256.7 438.6,1256.3 441.1,1256.3 443.7,1256.5 446.2,1256.6 448.8,1256.4 451.3,1257.0 453.9,1257.1 456.4,1257.0 459.0,1256.7 461.5,1256.6 464.1,1256.9 466.7,1256.9 469.2,1257.2 471.8,1257.3 474.3,1257.5 476.9,1257.1 479.4,1257.4 482.0,1257.0 484.5,1257.0 487.1,1257.3 489.6,1257.4 492.2,1257.5 494.7,1257.9 497.3,1258.4 499.8,1258.2 502.4,1258.5 504.9,1258.5 507.5,1258.5 510.0,1258.6 512.6,1259.0 515.1,1259.1 517.7,1259.2 520.2,1259.6 522.8,1259.7 525.3,1259.9 527.9,1260.0 530.4,1260.1 533.0,1260.2 535.5,1260.2 538.1,1260.4 540.6,1260.5 543.2,1260.7 545.7,1260.9 548.3,1261.3 550.9,1261.3 553.4,1261.6 556.0,1261.7 558.5,1261.7 561.1,1261.6 563.6,1261.8 566.2,1262.0 568.7,1261.9 571.3,1261.9 573.8,1262.2 576.4,1262.1 578.9,1262.0 581.5,1262.2 584.0,1262.3 586.6,1262.1 589.1,1262.2 591.7,1262.4 594.2,1262.0 596.8,1262.1 599.3,1262.3 601.9,1262.3 604.4,1262.2 607.0,1262.4 609.5,1262.4 612.1,1262.2 614.6,1262.3 617.2,1262.3 619.7,1262.3 622.3,1262.3 624.8,1262.5 627.4,1262.5 629.9,1262.4 632.5,1262.5 632.5,1262.4" stroke="#f21212" stroke-width="2.8"/>
<path d="M122.2,1586.8 122.8,1580.1 123.5,1573.4 124.1,1566.2 124.8,1558.5 125.4,1550.6 126.0,1542.4 126.7,1533.7 127.3,1524.5 127.9,1514.8 128.6,1504.4 129.2,1492.7 129.9,1479.5 130.5,1465.3 131.1,1450.7 131.8,1436.1 132.4,1421.9 133.0,1407.7 133.7,1393.3 134.3,1379.4 135.0,1367.0 135.6,1355.7 136.2,1344.8 136.9,1334.8 137.5,1326.0 138.1,1318.9 138.8,1312.8 139.4,1307.0 140.1,1301.8 140.7,1297.4 141.3,1294.1 142.0,1292.1 142.6,1290.9 143.2,1289.9 143.9,1288.9 144.5,1288.1 145.2,1287.4 145.8,1286.8 146.4,1286.2 147.1,1285.7 147.7,1285.2 148.4,1284.8 149.0,1284.5 149.6,1284.1 150.3,1283.7 150.9,1283.4 151.5,1283.0 152.2,1282.7 152.8,1282.4 153.5,1282.1 154.1,1281.8 154.7,1281.5 155.4,1281.2 156.0,1281.0 156.6,1280.7 157.3,1280.5 157.9,1280.3 158.6,1280.1 159.2,1279.9 159.8,1279.7 160.5,1279.5 161.1,1279.4 161.7,1279.2 162.4,1279.1 163.0,1279.0 163.7,1278.9 164.3,1278.8 164.9,1278.7 165.6,1278.6 166.2,1278.5 166.9,1278.5 167.5,1278.4 168.1,1278.3 168.8,1278.2 169.4,1278.2 170.0,1278.1 170.7,1278.1 171.3,1278.0 172.0,1277.9 172.6,1277.9 173.2,1277.8 173.9,1277.8 174.5,1277.7 175.1,1277.7 175.8,1277.6 176.4,1277.6 177.1,1277.5 177.7,1277.5 178.3,1277.5 179.0,1277.4 179.6,1277.4 180.2,1277.3 180.9,1277.3 181.5,1277.2 182.2,1277.2 182.8,1277.2 183.4,1277.1 184.1,1277.1 184.7,1277.0 185.3,1277.0 186.0,1276.9 186.6,1277.2 187.3,1276.8 187.9,1275.6 188.5,1275.4 189.2,1275.6 189.8,1275.2 190.5,1275.6 191.1,1276.0 191.7,1276.2 192.4,1275.9 193.0,1276.9 193.6,1276.3 194.3,1276.5 194.9,1276.4 195.6,1276.0 196.2,1275.1 196.8,1275.3 197.5,1275.3 198.1,1274.9 198.7,1275.3 199.4,1275.2 200.0,1274.9 200.7,1274.8 201.3,1274.8 201.9,1274.8 202.6,1275.2 203.2,1275.5 203.8,1275.2 204.5,1274.7 205.1,1274.1 205.8,1273.8 206.4,1273.4 207.0,1273.3 207.7,1272.8 208.3,1273.1 209.0,1272.6 209.6,1272.9 210.2,1272.9 210.9,1273.3 211.5,1273.2 212.1,1273.2 212.8,1273.2 213.4,1272.7 214.1,1272.9 214.7,1272.2 215.3,1272.3 216.0,1271.5 216.6,1271.9 217.2,1271.5 217.9,1272.1 218.5,1272.1 219.2,1272.3 219.8,1271.9 220.4,1271.9 221.1,1271.3 221.7,1270.9 222.3,1270.9 223.0,1271.1 223.6,1271.3 224.3,1271.5 226.8,1272.0 229.4,1271.5 231.9,1270.9 234.5,1270.5 237.0,1269.9 239.6,1268.9 242.1,1268.8 244.7,1268.7 247.2,1268.2 249.8,1268.1 252.3,1268.2 254.9,1267.6 257.4,1266.9 260.0,1267.2 262.5,1266.9 265.1,1266.7 267.6,1266.5 270.2,1266.1 272.7,1265.7 275.3,1265.8 277.8,1265.3 280.4,1265.5 282.9,1265.2 285.5,1264.6 288.0,1264.3 290.6,1264.1 293.2,1264.5 295.7,1264.7 298.3,1264.6 300.8,1264.5 303.4,1264.8 305.9,1264.0 308.5,1263.4 311.0,1263.5 313.6,1263.7 316.1,1263.0 318.7,1263.5 321.2,1263.8 323.8,1263.9 326.3,1263.2 328.9,1263.8 331.4,1262.8 334.0,1262.7 336.5,1262.9 339.1,1263.6 341.6,1263.3 344.2,1263.2 346.7,1263.1 349.3,1262.5 351.8,1261.9 354.4,1261.5 356.9,1261.7 359.5,1261.5 362.0,1261.7 364.6,1261.2 367.1,1260.9 369.7,1261.3 372.2,1260.6 374.8,1260.1 377.4,1260.4 379.9,1261.3 382.5,1260.6 385.0,1261.0 387.6,1261.3 390.1,1261.6 392.7,1260.7 395.2,1260.9 397.8,1261.1 400.3,1260.1 402.9,1258.9 405.4,1258.9 408.0,1258.8 410.5,1258.4 413.1,1259.7 415.6,1260.2 418.2,1260.6 420.7,1260.8 423.3,1261.3 425.8,1260.5 428.4,1260.5 430.9,1260.2 433.5,1259.5 436.0,1259.3 438.6,1259.7 441.1,1260.2 443.7,1260.3 446.2,1260.3 448.8,1260.1 451.3,1259.6 453.9,1259.4 456.4,1259.4 459.0,1259.8 461.5,1260.1 464.1,1259.8 466.7,1259.2 469.2,1259.2 471.8,1259.2 474.3,1258.9 476.9,1259.8 479.4,1259.9 482.0,1260.0 484.5,1259.9 487.1,1260.1 489.6,1259.9 492.2,1260.4 494.7,1260.4 497.3,1260.6 499.8,1260.5 502.4,1260.4 504.9,1260.0 507.5,1259.2 510.0,1258.7 512.6,1258.6 515.1,1258.4 517.7,1258.6 520.2,1258.6 522.8,1258.7 525.3,1259.1 527.9,1259.1 530.4,1258.7 533.0,1259.9 535.5,1260.3 538.1,1260.1 540.6,1260.9 543.2,1261.4 545.7,1261.0 548.3,1260.7 550.9,1260.5 553.4,1259.3 556.0,1259.1 558.5,1258.6 561.1,1258.7 563.6,1258.7 566.2,1259.8 568.7,1260.2 571.3,1260.7 573.8,1260.5 576.4,1260.1 578.9,1259.5 581.5,1258.8 584.0,1258.7 586.6,1258.5 589.1,1258.4 591.7,1258.7 594.2,1258.8 596.8,1258.8 599.3,1258.8 601.9,1259.0 604.4,1258.9 607.0,1258.8 609.5,1258.5 612.1,1259.1 614.6,1259.6 617.2,1260.0 619.7,1260.7 622.3,1260.8 624.8,1260.2 627.4,1260.4 629.9,1260.1 632.5,1259.7 632.5,1259.8" stroke="#000" stroke-width="3.2" stroke-linecap="round" stroke-dasharray="4.4,9.3"/>
<path d="M122.2,1586.8 122.8,1585.6 123.5,1584.5 124.1,1583.6 124.8,1582.8 125.4,1581.9 126.0,1581.0 126.7,1579.8 127.3,1578.5 127.9,1576.8 128.6,1574.8 129.2,1572.2 129.9,1565.2 130.5,1547.9 131.1,1524.2 131.8,1498.6 132.4,1475.5 133.0,1454.0 133.7,1431.3 134.3,1409.0 135.0,1388.6 135.6,1371.6 136.2,1357.6 136.9,1345.1 137.5,1333.8 138.1,1323.1 138.8,1312.1 139.4,1305.0 140.1,1300.3 140.7,1296.6 141.3,1293.8 142.0,1292.1 142.6,1290.9 143.2,1289.9 143.9,1289.0 144.5,1288.1 145.2,1287.4 145.8,1286.8 146.4,1286.2 147.1,1285.7 147.7,1285.3 148.4,1284.8 149.0,1284.5 149.6,1284.1 150.3,1283.7 150.9,1283.4 151.5,1283.0 152.2,1282.7 152.8,1282.3 153.5,1282.0 154.1,1281.6 154.7,1281.3 155.4,1281.0 156.0,1280.7 156.6,1280.5 157.3,1280.2 157.9,1280.0 158.6,1279.8 159.2,1279.6 159.8,1279.4 160.5,1279.3 161.1,1279.2 161.7,1279.1 162.4,1279.0 163.0,1279.0 163.7,1279.0 164.3,1279.0 164.9,1279.0 165.6,1279.0 166.2,1279.0 166.9,1279.0 167.5,1279.0 168.1,1279.0 168.8,1279.0 169.4,1279.0 170.0,1279.0 170.7,1279.0 171.3,1279.0 172.0,1279.0 172.6,1279.0 173.2,1279.0 173.9,1279.0 174.5,1279.0 175.1,1279.0 175.8,1279.0 176.4,1279.0 177.1,1279.0 177.7,1279.0 178.3,1279.0 179.0,1279.0 179.6,1279.0 180.2,1279.0 180.9,1279.0 181.5,1279.0 182.2,1279.0 182.8,1279.0 183.4,1279.0 184.1,1279.0 184.7,1279.0 185.3,1279.0 186.0,1279.0 186.6,1279.0 187.3,1279.0 187.9,1279.0 188.5,1279.0 189.2,1279.0 189.8,1279.0 190.5,1279.0 191.1,1279.0 191.7,1279.0 192.4,1279.0 193.0,1279.0 193.6,1279.0 194.3,1279.0 194.9,1279.0 195.6,1279.0 196.2,1279.0 196.8,1279.0 197.5,1279.0 198.1,1279.0 198.7,1279.0 199.4,1279.0 200.0,1279.0 200.7,1279.0 201.3,1279.0 201.9,1279.0 202.6,1279.0 203.2,1279.0 203.8,1279.0 204.5,1279.0 205.1,1279.0 205.8,1279.0 206.4,1279.0 207.0,1279.0 207.7,1279.0 208.3,1279.0 209.0,1279.0 209.6,1279.0 210.2,1279.0 210.9,1279.0 211.5,1279.0 212.1,1279.0 212.8,1279.0 213.4,1279.0 214.1,1279.0 214.7,1279.0 215.3,1279.0 216.0,1279.0 216.6,1279.0 217.2,1279.0 217.9,1279.0 218.5,1279.0 219.2,1279.0 219.8,1279.0 220.4,1279.0 221.1,1279.0 221.7,1279.0 222.3,1279.0 223.0,1279.0 223.6,1279.0 224.3,1279.0 230.6,1279.0 237.0,1279.0 243.4,1279.0 249.8,1279.0 256.2,1279.0 262.5,1279.0 268.9,1279.0 275.3,1279.0 281.7,1279.0 288.0,1279.0 294.4,1279.0 300.8,1279.0 307.2,1279.0 313.6,1279.0 319.9,1279.0 326.3,1279.0 332.7,1279.0 339.1,1279.0 345.5,1279.0 351.8,1279.0 358.2,1279.0 364.6,1279.0 371.0,1279.0 377.4,1279.0 383.7,1279.0 390.1,1279.0 396.5,1279.0 402.9,1279.0 409.2,1279.0 415.6,1279.0 422.0,1279.0 428.4,1279.0 434.8,1279.0 441.1,1279.0 447.5,1279.0 453.9,1279.0 460.3,1279.0 466.7,1279.0 473.0,1279.0 479.4,1279.0 485.8,1279.0 492.2,1279.0 498.5,1279.0 504.9,1279.0 511.3,1279.0 517.7,1279.0 524.1,1279.0 530.4,1279.0 536.8,1279.0 543.2,1279.0 549.6,1279.0 556.0,1279.0 562.3,1279.0 568.7,1279.0 575.1,1279.0 581.5,1279.0 587.8,1279.0 594.2,1279.0 600.6,1279.0 607.0,1279.0 613.4,1279.0 619.7,1279.0 626.1,1279.0 632.5,1279.0 632.5,1279.0" stroke="#858585" stroke-width="3"/>
</g>
<rect x="122.2" y="1174.6" width="510.3" height="412.20000000000005" fill="none" stroke="#505050" stroke-width="2.4"/>
<path d="M114.20,1586.80H122.20M117.70,1552.45H122.20M114.20,1518.10H122.20M117.70,1483.75H122.20M114.20,1449.40H122.20M117.70,1415.05H122.20M114.20,1380.70H122.20M117.70,1346.35H122.20M114.20,1312.00H122.20M117.70,1277.65H122.20M114.20,1243.30H122.20M117.70,1208.95H122.20M114.20,1174.60H122.20M122.20,1586.80V1594.30M185.99,1586.80V1591.30M249.78,1586.80V1594.30M313.56,1586.80V1591.30M377.35,1586.80V1594.30M441.14,1586.80V1591.30M504.93,1586.80V1594.30M568.71,1586.80V1591.30M632.50,1586.80V1594.30" stroke="#505050" stroke-width="2.4" fill="none"/>
<g font-family="'Liberation Sans', sans-serif" font-size="27.8" fill="#000">
<text text-anchor="end" transform="translate(108.80,1595.20) scale(1,1.045)">0.000</text>
<text text-anchor="end" transform="translate(108.80,1526.50) scale(1,1.045)">0.001</text>
<text text-anchor="end" transform="translate(108.80,1457.80) scale(1,1.045)">0.002</text>
<text text-anchor="end" transform="translate(108.80,1389.10) scale(1,1.045)">0.003</text>
<text text-anchor="end" transform="translate(108.80,1320.40) scale(1,1.045)">0.004</text>
<text text-anchor="end" transform="translate(108.80,1251.70) scale(1,1.045)">0.005</text>
<text text-anchor="end" transform="translate(108.80,1183.00) scale(1,1.045)">0.006</text>
<text text-anchor="middle" transform="translate(122.20,1621.40) scale(1,1.045)">0</text>
<text text-anchor="middle" transform="translate(249.78,1621.40) scale(1,1.045)">2</text>
<text text-anchor="middle" transform="translate(377.35,1621.40) scale(1,1.045)">4</text>
<text text-anchor="middle" transform="translate(504.93,1621.40) scale(1,1.045)">6</text>
<text text-anchor="middle" transform="translate(632.50,1621.40) scale(1,1.045)">8</text>
</g>
<text font-family="'Liberation Sans', sans-serif" font-size="35.4" transform="translate(31.00,1380.70) rotate(-90) scale(1,1.045)" text-anchor="middle">Moisture content (g/g)</text>
<text font-family="'Liberation Sans', sans-serif" font-size="35.4" text-anchor="middle" transform="translate(377.35,1676.00) scale(1,1.045)">t(h)<tspan font-size="23.6" dy="-14.16">1/2</tspan></text>
<text font-family="'Liberation Sans', sans-serif" font-size="35.4" transform="translate(252.6,1160.1) scale(1,1.045)">PLA(CS)(CNC)<tspan font-size="22.6" dy="8.61">10</tspan></text>
<text font-family="'Liberation Sans', sans-serif" font-size="45.5" transform="translate(143.00,1226.50) scale(1,1.045)">f</text>
<rect x="384.30" y="1480.00" width="243.00" height="102.40" rx="1.5" fill="#fff" stroke="#c6c6c6" stroke-width="1.8"/>
<path d="M387.90,1498.50H449.30" stroke="#f21212" stroke-width="3.2" stroke-linecap="round"/>
<text font-family="'Liberation Sans', sans-serif" font-size="27.2" transform="translate(455.50,1507.70) scale(1,1.045)">Experiment</text>
<path d="M388.60,1531.60H450.30" stroke="#000" stroke-width="3.4" stroke-linecap="round" stroke-dasharray="5.1,8.8"/>
<text font-family="'Liberation Sans', sans-serif" font-size="27.2" transform="translate(455.50,1540.80) scale(1,1.045)">Model</text>
<path d="M387.90,1564.60H449.30" stroke="#858585" stroke-width="3.2" stroke-linecap="round"/>
<text font-family="'Liberation Sans', sans-serif" font-size="27.2" transform="translate(455.50,1573.80) scale(1,1.045)">Fickian model</text>
<clipPath id="clipg"><rect x="787.9" y="1169.7" width="510.6" height="413.70000000000005"/></clipPath>
<g clip-path="url(#clipg)" fill="none" stroke-linejoin="round">
<path d="M832.6,1273.9 833.2,1273.9 833.9,1273.9 834.5,1273.9 835.1,1273.9 835.8,1273.9 836.4,1273.9 837.0,1273.9 837.7,1273.9 838.3,1273.9 839.0,1273.9 839.6,1273.9 840.2,1273.9 840.9,1273.9 841.5,1273.9 842.2,1273.9 842.8,1273.9 843.4,1273.9 844.1,1273.9 844.7,1273.9 845.3,1273.9 846.0,1273.9 846.6,1273.9 847.3,1273.9 847.9,1273.9 848.5,1273.9 849.2,1273.9 849.8,1273.9 850.4,1273.9 851.1,1273.9 851.7,1273.8 852.4,1273.5 853.0,1273.5 853.6,1273.6 854.3,1273.5 854.9,1273.7 855.6,1273.9 856.2,1273.9 856.8,1274.1 857.5,1274.1 858.1,1273.8 858.7,1273.8 859.4,1273.8 860.0,1273.5 860.7,1273.3 861.3,1273.3 861.9,1273.0 862.6,1272.7 863.2,1272.6 863.9,1272.6 864.5,1272.3 865.1,1272.3 865.8,1272.2 866.4,1272.3 867.0,1271.9 867.7,1271.9 868.3,1271.9 869.0,1271.9 869.6,1271.7 870.2,1271.6 870.9,1271.6 871.5,1271.5 872.1,1271.3 872.8,1271.3 873.4,1271.2 874.1,1270.8 874.7,1270.8 875.3,1270.7 876.0,1270.4 876.6,1270.4 877.3,1270.5 877.9,1270.1 878.5,1270.0 879.2,1270.0 879.8,1269.9 880.4,1270.0 881.1,1270.0 881.7,1270.1 882.4,1270.1 883.0,1270.0 883.6,1270.0 884.3,1270.1 884.9,1269.9 885.6,1269.9 886.2,1270.0 886.8,1269.8 887.5,1269.6 888.1,1269.6 888.7,1269.6 889.4,1269.5 890.0,1269.5 890.0,1269.6 892.6,1269.5 895.1,1269.9 897.7,1269.9 900.2,1269.9 902.8,1270.0 905.3,1270.1 907.9,1269.9 910.4,1269.7 913.0,1269.7 915.5,1269.4 918.1,1269.2 920.7,1269.0 923.2,1269.2 925.8,1269.2 928.3,1268.9 930.9,1269.0 933.4,1269.0 936.0,1268.6 938.5,1268.3 941.1,1268.2 943.6,1268.0 946.2,1267.7 948.7,1267.6 951.3,1267.3 953.8,1267.4 956.4,1267.1 959.0,1266.8 961.5,1266.7 964.1,1267.0 966.6,1266.6 969.2,1266.2 971.7,1266.5 974.3,1266.4 976.8,1265.9 979.4,1266.1 981.9,1266.5 984.5,1266.5 987.0,1266.3 989.6,1266.5 992.1,1266.5 994.7,1266.5 997.2,1266.7 999.8,1266.9 1002.4,1267.1 1004.9,1267.2 1007.5,1267.4 1010.0,1267.5 1012.6,1267.3 1015.1,1267.3 1017.7,1267.3 1020.2,1267.1 1022.8,1267.1 1025.3,1267.4 1027.9,1267.3 1030.4,1267.3 1033.0,1267.6 1035.5,1267.4 1038.1,1267.5 1040.6,1267.7 1043.2,1267.9 1045.8,1267.7 1048.3,1267.5 1050.9,1267.4 1053.4,1266.9 1056.0,1266.8 1058.5,1266.3 1061.1,1266.0 1063.6,1265.5 1066.2,1265.2 1068.7,1264.5 1071.3,1264.0 1073.8,1263.7 1076.4,1263.1 1078.9,1262.6 1081.5,1262.4 1084.0,1262.1 1086.6,1261.8 1089.2,1261.7 1091.7,1261.4 1094.3,1260.9 1096.8,1260.8 1099.4,1260.5 1101.9,1260.4 1104.5,1260.4 1107.0,1260.3 1109.6,1259.9 1112.1,1259.9 1114.7,1259.8 1117.2,1259.8 1119.8,1259.5 1122.3,1259.6 1124.9,1259.8 1127.4,1260.0 1130.0,1259.9 1132.6,1260.5 1135.1,1260.6 1137.7,1260.5 1140.2,1260.3 1142.8,1260.3 1145.3,1260.5 1147.9,1260.7 1150.4,1261.0 1153.0,1261.1 1155.5,1261.4 1158.1,1261.1 1160.6,1261.4 1163.2,1261.0 1165.7,1261.0 1168.3,1261.3 1170.9,1261.3 1173.4,1261.2 1176.0,1261.4 1178.5,1261.8 1181.1,1261.2 1183.6,1261.3 1186.2,1261.0 1188.7,1260.8 1191.3,1260.5 1193.8,1260.5 1196.4,1260.3 1198.9,1260.0 1201.5,1260.0 1204.0,1259.8 1206.6,1259.5 1209.1,1259.2 1211.7,1258.8 1214.3,1258.3 1216.8,1257.8 1219.4,1257.5 1221.9,1257.1 1224.5,1256.8 1227.0,1256.5 1229.6,1256.4 1232.1,1256.0 1234.7,1255.8 1237.2,1255.6 1239.8,1255.2 1242.3,1254.8 1244.9,1254.7 1247.4,1254.6 1250.0,1254.2 1252.5,1254.0 1255.1,1254.1 1257.7,1253.7 1260.2,1253.3 1262.8,1253.3 1265.3,1253.1 1267.9,1252.7 1270.4,1252.6 1273.0,1252.4 1275.5,1251.8 1278.1,1251.7 1280.6,1251.6 1283.2,1251.3 1285.7,1250.9 1288.3,1250.9 1290.8,1250.6 1293.4,1250.2 1295.9,1250.0 1298.5,1249.7 1298.5,1249.7" stroke="#f21212" stroke-width="2.8"/>
<path d="M787.9,1583.4 788.5,1578.3 789.2,1573.2 789.8,1568.1 790.5,1562.5 791.1,1556.6 791.7,1550.5 792.4,1544.1 793.0,1537.3 793.6,1530.0 794.3,1522.0 794.9,1513.2 795.6,1502.5 796.2,1490.1 796.8,1476.6 797.5,1462.9 798.1,1449.7 798.8,1436.5 799.4,1422.9 800.0,1409.6 800.7,1397.0 801.3,1385.7 801.9,1375.2 802.6,1365.3 803.2,1356.1 803.9,1347.5 804.5,1339.7 805.1,1332.1 805.8,1324.8 806.4,1318.2 807.0,1312.7 807.7,1308.5 808.3,1304.9 809.0,1301.6 809.6,1298.6 810.2,1295.8 810.9,1293.5 811.5,1291.4 812.2,1289.7 812.8,1288.3 813.4,1287.2 814.1,1286.2 814.7,1285.3 815.3,1284.5 816.0,1283.7 816.6,1283.1 817.3,1282.4 817.9,1281.8 818.5,1281.3 819.2,1280.8 819.8,1280.3 820.5,1279.9 821.1,1279.4 821.7,1279.0 822.4,1278.5 823.0,1278.1 823.6,1277.7 824.3,1277.2 824.9,1276.8 825.6,1276.4 826.2,1276.1 826.8,1275.7 827.5,1275.4 828.1,1275.1 828.7,1274.8 829.4,1274.6 830.0,1274.4 830.7,1274.2 831.3,1274.1 831.9,1274.0 832.6,1273.9 833.2,1273.9 833.9,1273.9 834.5,1273.9 835.1,1273.9 835.8,1273.9 836.4,1273.9 837.0,1273.9 837.7,1273.9 838.3,1273.9 839.0,1273.9 839.6,1273.9 840.2,1273.9 840.9,1273.9 841.5,1273.9 842.2,1273.9 842.8,1273.9 843.4,1273.9 844.1,1273.9 844.7,1273.9 845.3,1273.9 846.0,1273.9 846.6,1273.9 847.3,1273.9 847.9,1273.9 848.5,1273.9 849.2,1273.9 849.8,1273.9 850.4,1273.9 851.1,1273.9 851.7,1273.9 852.4,1274.3 853.0,1273.9 853.6,1272.8 854.3,1272.6 854.9,1272.9 855.6,1272.6 856.2,1273.0 856.8,1273.4 857.5,1273.8 858.1,1273.5 858.7,1274.6 859.4,1274.0 860.0,1274.3 860.7,1274.3 861.3,1273.9 861.9,1273.1 862.6,1273.3 863.2,1273.5 863.9,1273.2 864.5,1273.7 865.1,1273.7 865.8,1273.4 866.4,1273.4 867.0,1273.5 867.7,1273.5 868.3,1274.1 869.0,1274.4 869.6,1274.2 870.2,1273.8 870.9,1273.3 871.5,1273.1 872.1,1272.7 872.8,1272.8 873.4,1272.4 874.1,1272.7 874.7,1272.3 875.3,1272.7 876.0,1272.7 876.6,1273.2 877.3,1273.2 877.9,1273.2 878.5,1273.4 879.2,1272.9 879.8,1273.2 880.4,1272.5 881.1,1272.7 881.7,1271.9 882.4,1272.4 883.0,1272.0 883.6,1272.6 884.3,1272.6 884.9,1272.9 885.6,1272.5 886.2,1272.5 886.8,1272.0 887.5,1271.7 888.1,1271.6 888.7,1271.9 889.4,1272.1 890.0,1272.3 892.6,1272.8 895.1,1272.4 897.7,1271.9 900.2,1271.5 902.8,1271.0 905.3,1270.0 907.9,1270.0 910.4,1270.0 913.0,1269.7 915.5,1269.7 918.1,1269.9 920.7,1269.6 923.2,1269.0 925.8,1269.5 928.3,1269.4 930.9,1269.4 933.4,1269.2 936.0,1269.0 938.5,1268.6 941.1,1268.7 943.6,1268.2 946.2,1268.5 948.7,1268.1 951.3,1267.5 953.8,1267.2 956.4,1266.9 959.0,1267.3 961.5,1267.5 964.1,1267.3 966.6,1267.1 969.2,1267.4 971.7,1266.5 974.3,1266.0 976.8,1266.0 979.4,1266.1 981.9,1265.4 984.5,1266.0 987.0,1266.3 989.6,1266.4 992.1,1265.7 994.7,1266.2 997.2,1265.3 999.8,1265.2 1002.4,1265.4 1004.9,1266.1 1007.5,1265.9 1010.0,1265.8 1012.6,1265.7 1015.1,1265.1 1017.7,1264.6 1020.2,1264.2 1022.8,1264.3 1025.3,1264.2 1027.9,1264.3 1030.4,1263.8 1033.0,1263.6 1035.5,1263.9 1038.1,1263.2 1040.6,1262.6 1043.2,1262.9 1045.8,1263.7 1048.3,1263.0 1050.9,1263.3 1053.4,1263.5 1056.0,1263.7 1058.5,1262.6 1061.1,1262.8 1063.6,1262.8 1066.2,1261.7 1068.7,1260.4 1071.3,1260.2 1073.8,1260.0 1076.4,1259.5 1078.9,1260.6 1081.5,1261.0 1084.0,1261.2 1086.6,1261.3 1089.2,1261.7 1091.7,1260.7 1094.3,1260.5 1096.8,1260.1 1099.4,1259.3 1101.9,1258.9 1104.5,1259.3 1107.0,1259.6 1109.6,1259.6 1112.1,1259.5 1114.7,1259.2 1117.2,1258.5 1119.8,1258.3 1122.3,1258.2 1124.9,1258.5 1127.4,1258.7 1130.0,1258.2 1132.6,1257.5 1135.1,1257.5 1137.7,1257.4 1140.2,1257.0 1142.8,1257.8 1145.3,1257.8 1147.9,1257.8 1150.4,1257.6 1153.0,1257.8 1155.5,1257.4 1158.1,1257.8 1160.6,1257.8 1163.2,1257.9 1165.7,1257.7 1168.3,1257.5 1170.9,1257.0 1173.4,1256.1 1176.0,1255.5 1178.5,1255.3 1181.1,1254.9 1183.6,1255.0 1186.2,1255.0 1188.7,1254.9 1191.3,1255.1 1193.8,1255.0 1196.4,1254.5 1198.9,1255.6 1201.5,1255.8 1204.0,1255.5 1206.6,1256.1 1209.1,1256.6 1211.7,1256.0 1214.3,1255.6 1216.8,1255.3 1219.4,1254.0 1221.9,1253.7 1224.5,1253.1 1227.0,1253.2 1229.6,1253.1 1232.1,1254.1 1234.7,1254.5 1237.2,1255.0 1239.8,1254.7 1242.3,1254.3 1244.9,1253.8 1247.4,1253.1 1250.0,1253.1 1252.5,1252.9 1255.1,1252.9 1257.7,1253.2 1260.2,1253.3 1262.8,1253.3 1265.3,1253.3 1267.9,1253.6 1270.4,1253.4 1273.0,1253.3 1275.5,1252.9 1278.1,1253.3 1280.6,1253.8 1283.2,1254.1 1285.7,1254.6 1288.3,1254.6 1290.8,1253.9 1293.4,1254.0 1295.9,1253.6 1298.5,1253.0 1298.5,1253.2" stroke="#000" stroke-width="3.2" stroke-linecap="round" stroke-dasharray="4.4,9.3"/>
<path d="M787.9,1583.4 788.5,1583.4 789.2,1583.4 789.8,1583.4 790.5,1583.4 791.1,1583.4 791.7,1583.4 792.4,1583.4 793.0,1583.4 793.6,1583.4 794.3,1583.4 794.9,1581.8 795.6,1575.6 796.2,1565.5 796.8,1552.1 797.5,1536.1 798.1,1518.3 798.8,1499.4 799.4,1480.1 800.0,1461.0 800.7,1443.0 801.3,1426.5 801.9,1409.0 802.6,1390.3 803.2,1372.1 803.9,1355.8 804.5,1343.0 805.1,1332.1 805.8,1322.0 806.4,1313.4 807.0,1306.7 807.7,1302.4 808.3,1299.0 809.0,1296.2 809.6,1293.7 810.2,1291.7 810.9,1290.0 811.5,1288.7 812.2,1287.6 812.8,1286.6 813.4,1285.7 814.1,1284.8 814.7,1284.0 815.3,1283.3 816.0,1282.7 816.6,1282.1 817.3,1281.5 817.9,1281.0 818.5,1280.5 819.2,1280.1 819.8,1279.6 820.5,1279.2 821.1,1278.8 821.7,1278.4 822.4,1278.0 823.0,1277.6 823.6,1277.2 824.3,1276.9 824.9,1276.5 825.6,1276.2 826.2,1275.8 826.8,1275.5 827.5,1275.2 828.1,1275.0 828.7,1274.7 829.4,1274.5 830.0,1274.3 830.7,1274.2 831.3,1274.1 831.9,1274.0 832.6,1273.9 833.2,1273.9 833.9,1273.9 834.5,1273.9 835.1,1273.9 835.8,1273.9 836.4,1273.9 837.0,1273.9 837.7,1273.9 838.3,1273.9 839.0,1273.9 839.6,1273.9 840.2,1273.9 840.9,1273.9 841.5,1273.9 842.2,1273.9 842.8,1273.9 843.4,1273.9 844.1,1273.9 844.7,1273.9 845.3,1273.9 846.0,1273.9 846.6,1273.9 847.3,1273.9 847.9,1273.9 848.5,1273.9 849.2,1273.9 849.8,1273.9 850.4,1273.9 851.1,1273.9 851.7,1273.9 852.4,1273.9 853.0,1273.9 853.6,1273.9 854.3,1273.9 854.9,1273.9 855.6,1273.9 856.2,1273.9 856.8,1273.9 857.5,1273.9 858.1,1273.9 858.7,1273.9 859.4,1273.9 860.0,1273.9 860.7,1273.9 861.3,1273.9 861.9,1273.9 862.6,1273.9 863.2,1273.9 863.9,1273.9 864.5,1273.9 865.1,1273.9 865.8,1273.9 866.4,1273.9 867.0,1273.9 867.7,1273.9 868.3,1273.9 869.0,1273.9 869.6,1273.9 870.2,1273.9 870.9,1273.9 871.5,1273.9 872.1,1273.9 872.8,1273.9 873.4,1273.9 874.1,1273.9 874.7,1273.9 875.3,1273.9 876.0,1273.9 876.6,1273.9 877.3,1273.9 877.9,1273.9 878.5,1273.9 879.2,1273.9 879.8,1273.9 880.4,1273.9 881.1,1273.9 881.7,1273.9 882.4,1273.9 883.0,1273.9 883.6,1273.9 884.3,1273.9 884.9,1273.9 885.6,1273.9 886.2,1273.9 886.8,1273.9 887.5,1273.9 888.1,1273.9 888.7,1273.9 889.4,1273.9 890.0,1273.9 896.4,1274.0 902.8,1274.0 909.2,1274.0 915.5,1274.0 921.9,1274.0 928.3,1274.0 934.7,1274.0 941.1,1274.0 947.5,1274.0 953.8,1274.0 960.2,1274.0 966.6,1274.0 973.0,1274.0 979.4,1274.0 985.8,1274.0 992.1,1274.0 998.5,1274.0 1004.9,1274.0 1011.3,1274.0 1017.7,1274.0 1024.1,1274.0 1030.4,1274.0 1036.8,1274.0 1043.2,1274.0 1049.6,1274.1 1056.0,1274.1 1062.3,1274.1 1068.7,1274.1 1075.1,1274.1 1081.5,1274.1 1087.9,1274.1 1094.3,1274.1 1100.6,1274.1 1107.0,1274.1 1113.4,1274.1 1119.8,1274.1 1126.2,1274.1 1132.6,1274.1 1138.9,1274.1 1145.3,1274.1 1151.7,1274.2 1158.1,1274.2 1164.5,1274.2 1170.9,1274.2 1177.2,1274.2 1183.6,1274.2 1190.0,1274.2 1196.4,1274.2 1202.8,1274.2 1209.1,1274.2 1215.5,1274.2 1221.9,1274.2 1228.3,1274.2 1234.7,1274.2 1241.1,1274.2 1247.4,1274.2 1253.8,1274.2 1260.2,1274.3 1266.6,1274.3 1273.0,1274.3 1279.4,1274.3 1285.7,1274.3 1292.1,1274.3 1298.5,1274.3 1298.5,1274.3" stroke="#858585" stroke-width="3"/>
</g>
<rect x="787.9" y="1171.7" width="510.6" height="411.70000000000005" fill="none" stroke="#505050" stroke-width="2.4"/>
<path d="M779.90,1583.40H787.90M783.40,1549.09H787.90M779.90,1514.78H787.90M783.40,1480.47H787.90M779.90,1446.17H787.90M783.40,1411.86H787.90M779.90,1377.55H787.90M783.40,1343.24H787.90M779.90,1308.93H787.90M783.40,1274.62H787.90M779.90,1240.32H787.90M783.40,1206.01H787.90M779.90,1171.70H787.90M787.90,1583.40V1590.90M851.73,1583.40V1587.90M915.55,1583.40V1590.90M979.38,1583.40V1587.90M1043.20,1583.40V1590.90M1107.03,1583.40V1587.90M1170.85,1583.40V1590.90M1234.67,1583.40V1587.90M1298.50,1583.40V1590.90" stroke="#505050" stroke-width="2.4" fill="none"/>
<g font-family="'Liberation Sans', sans-serif" font-size="27.8" fill="#000">
<text text-anchor="end" transform="translate(774.50,1591.80) scale(1,1.045)">0.000</text>
<text text-anchor="end" transform="translate(774.50,1523.18) scale(1,1.045)">0.001</text>
<text text-anchor="end" transform="translate(774.50,1454.57) scale(1,1.045)">0.002</text>
<text text-anchor="end" transform="translate(774.50,1385.95) scale(1,1.045)">0.003</text>
<text text-anchor="end" transform="translate(774.50,1317.33) scale(1,1.045)">0.004</text>
<text text-anchor="end" transform="translate(774.50,1248.72) scale(1,1.045)">0.005</text>
<text text-anchor="end" transform="translate(774.50,1180.10) scale(1,1.045)">0.006</text>
<text text-anchor="middle" transform="translate(787.90,1618.00) scale(1,1.045)">0</text>
<text text-anchor="middle" transform="translate(915.55,1618.00) scale(1,1.045)">2</text>
<text text-anchor="middle" transform="translate(1043.20,1618.00) scale(1,1.045)">4</text>
<text text-anchor="middle" transform="translate(1170.85,1618.00) scale(1,1.045)">6</text>
<text text-anchor="middle" transform="translate(1298.50,1618.00) scale(1,1.045)">8</text>
</g>
<text font-family="'Liberation Sans', sans-serif" font-size="35.4" transform="translate(696.80,1377.55) rotate(-90) scale(1,1.045)" text-anchor="middle">Moisture content (g/g)</text>
<text font-family="'Liberation Sans', sans-serif" font-size="35.4" text-anchor="middle" transform="translate(1043.20,1672.60) scale(1,1.045)">t(h)<tspan font-size="23.6" dy="-14.16">1/2</tspan></text>
<text font-family="'Liberation Sans', sans-serif" font-size="35.4" transform="translate(917.8,1156.8) scale(1,1.045)">PLA(CS)(CNF)<tspan font-size="22.6" dy="8.61">10</tspan></text>
<text font-family="'Liberation Sans', sans-serif" font-size="43.5" transform="translate(809.60,1217.20) scale(1,1.045)">g</text>
<rect x="1052.90" y="1477.90" width="242.50" height="103.10" rx="1.5" fill="#fff" stroke="#c6c6c6" stroke-width="1.8"/>
<path d="M1056.50,1496.40H1117.90" stroke="#f21212" stroke-width="3.2" stroke-linecap="round"/>
<text font-family="'Liberation Sans', sans-serif" font-size="27.2" transform="translate(1124.10,1505.60) scale(1,1.045)">Experiment</text>
<path d="M1057.20,1529.50H1118.90" stroke="#000" stroke-width="3.4" stroke-linecap="round" stroke-dasharray="5.1,8.8"/>
<text font-family="'Liberation Sans', sans-serif" font-size="27.2" transform="translate(1124.10,1538.70) scale(1,1.045)">Model</text>
<path d="M1056.50,1562.50H1117.90" stroke="#858585" stroke-width="3.2" stroke-linecap="round"/>
<text font-family="'Liberation Sans', sans-serif" font-size="27.2" transform="translate(1124.10,1571.70) scale(1,1.045)">Fickian model</text>
<clipPath id="cliph"><rect x="1450.6" y="1171.2" width="509.20000000000005" height="413.70000000000005"/></clipPath>
<g clip-path="url(#cliph)" fill="none" stroke-linejoin="round">
<path d="M1513.6,1269.3 1514.2,1269.3 1514.9,1269.3 1515.5,1269.2 1516.2,1269.2 1516.8,1269.2 1517.4,1269.2 1518.1,1269.2 1518.7,1269.1 1519.3,1269.1 1520.0,1269.1 1520.6,1269.0 1521.3,1269.0 1521.9,1269.0 1522.5,1268.9 1523.2,1268.9 1523.8,1268.8 1524.4,1268.8 1525.1,1268.7 1525.7,1268.6 1526.3,1268.6 1527.0,1268.5 1527.6,1268.5 1528.3,1268.4 1528.9,1268.3 1529.5,1268.3 1530.2,1268.2 1530.8,1268.1 1531.4,1268.0 1532.1,1268.0 1532.7,1267.9 1533.3,1267.8 1534.0,1267.7 1534.6,1267.7 1535.3,1267.6 1535.9,1267.5 1536.5,1267.4 1537.2,1267.3 1537.8,1267.2 1538.4,1267.1 1539.1,1267.1 1539.7,1267.0 1540.3,1266.9 1541.0,1266.8 1541.6,1266.7 1542.3,1266.6 1542.9,1266.5 1543.5,1266.4 1544.2,1266.3 1544.8,1266.2 1545.4,1266.1 1546.1,1266.0 1546.7,1265.9 1547.3,1265.8 1548.0,1265.7 1548.6,1265.6 1549.3,1265.6 1549.9,1265.5 1550.5,1265.4 1551.2,1265.3 1551.8,1265.2 1552.4,1265.1 1552.4,1265.1 1558.8,1264.2 1565.2,1263.4 1571.5,1262.8 1577.9,1262.4 1584.3,1262.2 1590.6,1262.0 1597.0,1261.8 1603.4,1261.6 1609.7,1261.4 1616.1,1261.3 1622.5,1261.2 1628.8,1261.1 1635.2,1261.0 1641.5,1261.0 1647.9,1261.0 1654.3,1261.1 1660.6,1261.1 1667.0,1261.2 1673.4,1261.3 1679.7,1261.4 1686.1,1261.5 1692.5,1261.6 1698.8,1261.6 1705.2,1261.7 1711.6,1261.8 1717.9,1261.9 1724.3,1262.0 1730.7,1262.1 1737.0,1262.1 1743.4,1262.2 1749.8,1262.3 1756.1,1262.4 1762.5,1262.4 1768.9,1262.4 1775.2,1262.4 1781.6,1262.2 1787.9,1262.0 1794.3,1261.8 1800.7,1261.4 1807.0,1261.0 1813.4,1260.6 1819.8,1260.1 1826.1,1259.5 1832.5,1259.0 1838.9,1258.1 1845.2,1256.7 1851.6,1255.1 1858.0,1253.6 1864.3,1252.5 1870.7,1251.7 1877.1,1250.9 1883.4,1250.3 1889.8,1250.1 1896.2,1251.4 1902.5,1254.2 1908.9,1256.2 1915.2,1257.2 1921.6,1258.1 1928.0,1258.7 1934.3,1259.0 1940.7,1258.8 1947.1,1258.5 1953.4,1258.0 1959.8,1257.6 1959.8,1257.6" stroke="#f21212" stroke-width="2.8"/>
<path d="M1450.6,1584.9 1451.2,1579.0 1451.9,1573.1 1452.5,1567.5 1453.1,1562.4 1453.8,1557.6 1454.4,1552.8 1455.1,1547.5 1455.7,1541.6 1456.3,1534.5 1457.0,1526.2 1457.6,1516.9 1458.2,1506.8 1458.9,1496.2 1459.5,1485.0 1460.1,1472.5 1460.8,1459.2 1461.4,1445.7 1462.1,1432.4 1462.7,1419.5 1463.3,1406.3 1464.0,1393.3 1464.6,1380.7 1465.2,1368.9 1465.9,1357.6 1466.5,1345.9 1467.1,1334.4 1467.8,1323.7 1468.4,1314.3 1469.1,1306.9 1469.7,1302.1 1470.3,1298.5 1471.0,1295.1 1471.6,1292.1 1472.2,1289.3 1472.9,1286.8 1473.5,1284.6 1474.2,1282.7 1474.8,1280.9 1475.4,1279.5 1476.1,1278.2 1476.7,1277.2 1477.3,1276.3 1478.0,1275.5 1478.6,1274.8 1479.2,1274.1 1479.9,1273.4 1480.5,1272.9 1481.2,1272.3 1481.8,1271.8 1482.4,1271.3 1483.1,1270.9 1483.7,1270.5 1484.3,1270.2 1485.0,1269.9 1485.6,1269.6 1486.2,1269.3 1486.9,1269.1 1487.5,1268.9 1488.2,1268.7 1488.8,1268.5 1489.4,1268.3 1490.1,1268.2 1490.7,1268.0 1491.3,1267.8 1492.0,1267.7 1492.6,1267.6 1493.2,1267.4 1493.9,1267.3 1494.5,1267.2 1495.2,1267.1 1495.8,1267.0 1496.4,1266.9 1497.1,1266.8 1497.7,1266.7 1498.3,1266.6 1499.0,1266.5 1499.6,1266.5 1500.2,1266.4 1500.9,1266.3 1501.5,1266.2 1502.2,1266.2 1502.8,1266.1 1503.4,1266.1 1504.1,1266.0 1504.7,1265.9 1505.3,1265.9 1506.0,1265.8 1506.6,1265.8 1507.2,1265.7 1507.9,1265.7 1508.5,1265.6 1509.2,1265.6 1509.8,1265.5 1510.4,1265.5 1511.1,1265.5 1511.7,1265.4 1512.3,1265.4 1513.0,1265.3 1513.6,1265.3 1514.2,1265.3 1514.9,1265.2 1515.5,1265.2 1516.2,1265.1 1516.8,1265.1 1517.4,1265.1 1518.1,1265.0 1518.7,1265.0 1519.3,1265.0 1520.0,1264.9 1520.6,1264.9 1521.3,1264.8 1521.9,1264.8 1522.5,1264.8 1523.2,1264.7 1523.8,1264.7 1524.4,1264.7 1525.1,1264.6 1525.7,1264.6 1526.3,1264.6 1527.0,1264.5 1527.6,1264.5 1528.3,1264.5 1528.9,1264.4 1529.5,1264.4 1530.2,1264.4 1530.8,1264.3 1531.4,1264.3 1532.1,1264.3 1532.7,1264.2 1533.3,1264.2 1534.0,1264.2 1534.6,1264.1 1535.3,1264.1 1535.9,1264.1 1536.5,1264.0 1537.2,1264.0 1537.8,1264.0 1538.4,1264.0 1539.1,1263.9 1539.7,1263.9 1540.3,1263.9 1541.0,1263.8 1541.6,1263.8 1542.3,1263.8 1542.9,1263.8 1543.5,1263.7 1544.2,1263.7 1544.8,1263.7 1545.4,1263.6 1546.1,1263.6 1546.7,1263.6 1547.3,1263.6 1548.0,1263.5 1548.6,1263.5 1549.3,1263.5 1549.9,1263.5 1550.5,1263.4 1551.2,1263.4 1551.8,1263.4 1552.4,1263.3 1558.8,1263.1 1565.2,1262.9 1571.5,1262.6 1577.9,1262.4 1584.3,1262.2 1590.6,1262.0 1597.0,1261.8 1603.4,1261.6 1609.7,1261.4 1616.1,1261.2 1622.5,1261.1 1628.8,1260.9 1635.2,1260.7 1641.5,1260.6 1647.9,1260.4 1654.3,1260.3 1660.6,1260.1 1667.0,1259.9 1673.4,1259.8 1679.7,1259.6 1686.1,1259.5 1692.5,1259.3 1698.8,1259.1 1705.2,1259.0 1711.6,1258.8 1717.9,1258.6 1724.3,1258.4 1730.7,1258.2 1737.0,1258.1 1743.4,1257.9 1749.8,1257.7 1756.1,1257.5 1762.5,1257.3 1768.9,1257.1 1775.2,1256.9 1781.6,1256.7 1787.9,1256.6 1794.3,1256.4 1800.7,1256.2 1807.0,1256.1 1813.4,1255.9 1819.8,1255.8 1826.1,1255.7 1832.5,1255.5 1838.9,1255.4 1845.2,1255.3 1851.6,1255.2 1858.0,1255.1 1864.3,1255.0 1870.7,1254.9 1877.1,1254.9 1883.4,1254.8 1889.8,1254.7 1896.2,1254.6 1902.5,1254.5 1908.9,1254.5 1915.2,1254.4 1921.6,1254.3 1928.0,1254.2 1934.3,1254.1 1940.7,1254.1 1947.1,1254.0 1953.4,1253.9 1959.8,1253.8 1959.8,1253.8" stroke="#000" stroke-width="3.2" stroke-linecap="round" stroke-dasharray="4.4,9.3"/>
<path d="M1450.6,1584.9 1451.2,1584.5 1451.9,1584.2 1452.5,1583.9 1453.1,1583.7 1453.8,1583.4 1454.4,1583.1 1455.1,1582.7 1455.7,1582.2 1456.3,1581.6 1457.0,1580.8 1457.6,1574.4 1458.2,1559.0 1458.9,1537.2 1459.5,1512.1 1460.1,1486.3 1460.8,1462.9 1461.4,1444.0 1462.1,1426.5 1462.7,1409.5 1463.3,1393.2 1464.0,1378.0 1464.6,1363.7 1465.2,1349.0 1465.9,1334.8 1466.5,1322.4 1467.1,1312.9 1467.8,1307.2 1468.4,1302.7 1469.1,1298.9 1469.7,1295.6 1470.3,1292.9 1471.0,1290.6 1471.6,1288.7 1472.2,1287.0 1472.9,1285.4 1473.5,1284.0 1474.2,1282.7 1474.8,1281.5 1475.4,1280.5 1476.1,1279.7 1476.7,1279.1 1477.3,1278.6 1478.0,1278.2 1478.6,1277.8 1479.2,1277.4 1479.9,1277.1 1480.5,1276.8 1481.2,1276.5 1481.8,1276.2 1482.4,1276.0 1483.1,1275.7 1483.7,1275.5 1484.3,1275.3 1485.0,1275.1 1485.6,1274.9 1486.2,1274.7 1486.9,1274.6 1487.5,1274.4 1488.2,1274.2 1488.8,1274.0 1489.4,1273.8 1490.1,1273.6 1490.7,1273.4 1491.3,1273.3 1492.0,1273.1 1492.6,1272.9 1493.2,1272.8 1493.9,1272.6 1494.5,1272.4 1495.2,1272.3 1495.8,1272.1 1496.4,1272.0 1497.1,1271.8 1497.7,1271.7 1498.3,1271.6 1499.0,1271.4 1499.6,1271.3 1500.2,1271.2 1500.9,1271.1 1501.5,1270.9 1502.2,1270.8 1502.8,1270.7 1503.4,1270.6 1504.1,1270.5 1504.7,1270.4 1505.3,1270.3 1506.0,1270.2 1506.6,1270.1 1507.2,1270.0 1507.9,1269.8 1508.5,1269.7 1509.2,1269.6 1509.8,1269.6 1510.4,1269.5 1511.1,1269.4 1511.7,1269.4 1512.3,1269.3 1513.0,1269.3 1513.6,1269.3 1514.2,1269.3 1514.9,1269.3 1515.5,1269.3 1516.2,1269.3 1516.8,1269.3 1517.4,1269.3 1518.1,1269.3 1518.7,1269.3 1519.3,1269.3 1520.0,1269.3 1520.6,1269.3 1521.3,1269.3 1521.9,1269.3 1522.5,1269.3 1523.2,1269.3 1523.8,1269.3 1524.4,1269.3 1525.1,1269.3 1525.7,1269.3 1526.3,1269.3 1527.0,1269.3 1527.6,1269.3 1528.3,1269.3 1528.9,1269.3 1529.5,1269.3 1530.2,1269.3 1530.8,1269.3 1531.4,1269.3 1532.1,1269.3 1532.7,1269.3 1533.3,1269.3 1534.0,1269.3 1534.6,1269.3 1535.3,1269.3 1535.9,1269.3 1536.5,1269.3 1537.2,1269.3 1537.8,1269.3 1538.4,1269.3 1539.1,1269.3 1539.7,1269.3 1540.3,1269.3 1541.0,1269.3 1541.6,1269.3 1542.3,1269.3 1542.9,1269.3 1543.5,1269.3 1544.2,1269.3 1544.8,1269.3 1545.4,1269.3 1546.1,1269.3 1546.7,1269.3 1547.3,1269.3 1548.0,1269.3 1548.6,1269.3 1549.3,1269.3 1549.9,1269.3 1550.5,1269.3 1551.2,1269.3 1551.8,1269.3 1552.4,1269.3 1558.8,1269.3 1565.2,1269.3 1571.5,1269.3 1577.9,1269.3 1584.3,1269.3 1590.6,1269.3 1597.0,1269.3 1603.4,1269.3 1609.7,1269.3 1616.1,1269.3 1622.5,1269.3 1628.8,1269.3 1635.2,1269.3 1641.5,1269.3 1647.9,1269.3 1654.3,1269.3 1660.6,1269.3 1667.0,1269.3 1673.4,1269.3 1679.7,1269.3 1686.1,1269.3 1692.5,1269.3 1698.8,1269.3 1705.2,1269.3 1711.6,1269.3 1717.9,1269.3 1724.3,1269.3 1730.7,1269.3 1737.0,1269.3 1743.4,1269.3 1749.8,1269.3 1756.1,1269.3 1762.5,1269.3 1768.9,1269.3 1775.2,1269.3 1781.6,1269.3 1787.9,1269.3 1794.3,1269.3 1800.7,1269.3 1807.0,1269.3 1813.4,1269.3 1819.8,1269.3 1826.1,1269.3 1832.5,1269.3 1838.9,1269.3 1845.2,1269.3 1851.6,1269.3 1858.0,1269.3 1864.3,1269.3 1870.7,1269.3 1877.1,1269.3 1883.4,1269.3 1889.8,1269.3 1896.2,1269.3 1902.5,1269.3 1908.9,1269.3 1915.2,1269.3 1921.6,1269.3 1928.0,1269.3 1934.3,1269.3 1940.7,1269.3 1947.1,1269.3 1953.4,1269.3 1959.8,1269.3 1959.8,1269.3" stroke="#858585" stroke-width="3"/>
</g>
<rect x="1450.6" y="1173.2" width="509.20000000000005" height="411.70000000000005" fill="none" stroke="#505050" stroke-width="2.4"/>
<path d="M1442.60,1584.90H1450.60M1446.10,1550.59H1450.60M1442.60,1516.28H1450.60M1446.10,1481.97H1450.60M1442.60,1447.67H1450.60M1446.10,1413.36H1450.60M1442.60,1379.05H1450.60M1446.10,1344.74H1450.60M1442.60,1310.43H1450.60M1446.10,1276.12H1450.60M1442.60,1241.82H1450.60M1446.10,1207.51H1450.60M1442.60,1173.20H1450.60M1450.60,1584.90V1592.40M1514.25,1584.90V1589.40M1577.90,1584.90V1592.40M1641.55,1584.90V1589.40M1705.20,1584.90V1592.40M1768.85,1584.90V1589.40M1832.50,1584.90V1592.40M1896.15,1584.90V1589.40M1959.80,1584.90V1592.40" stroke="#505050" stroke-width="2.4" fill="none"/>
<g font-family="'Liberation Sans', sans-serif" font-size="27.8" fill="#000">
<text text-anchor="end" transform="translate(1437.20,1593.30) scale(1,1.045)">0.000</text>
<text text-anchor="end" transform="translate(1437.20,1524.68) scale(1,1.045)">0.001</text>
<text text-anchor="end" transform="translate(1437.20,1456.07) scale(1,1.045)">0.002</text>
<text text-anchor="end" transform="translate(1437.20,1387.45) scale(1,1.045)">0.003</text>
<text text-anchor="end" transform="translate(1437.20,1318.83) scale(1,1.045)">0.004</text>
<text text-anchor="end" transform="translate(1437.20,1250.22) scale(1,1.045)">0.005</text>
<text text-anchor="end" transform="translate(1437.20,1181.60) scale(1,1.045)">0.006</text>
<text text-anchor="middle" transform="translate(1450.60,1619.50) scale(1,1.045)">0</text>
<text text-anchor="middle" transform="translate(1577.90,1619.50) scale(1,1.045)">2</text>
<text text-anchor="middle" transform="translate(1705.20,1619.50) scale(1,1.045)">4</text>
<text text-anchor="middle" transform="translate(1832.50,1619.50) scale(1,1.045)">6</text>
<text text-anchor="middle" transform="translate(1959.80,1619.50) scale(1,1.045)">8</text>
</g>
<text font-family="'Liberation Sans', sans-serif" font-size="35.4" transform="translate(1360.00,1379.05) rotate(-90) scale(1,1.045)" text-anchor="middle">Moisture content (g/g)</text>
<text font-family="'Liberation Sans', sans-serif" font-size="35.4" text-anchor="middle" transform="translate(1705.20,1674.10) scale(1,1.045)">t(h)<tspan font-size="23.6" dy="-14.16">1/2</tspan></text>
<text font-family="'Liberation Sans', sans-serif" font-size="35.4" transform="translate(1554.5,1158.1) scale(1,1.045)">PLA(CS)(CNF T)<tspan font-size="22.6" dy="8.61">10</tspan><tspan dy="-8.61">(1)</tspan></text>
<text font-family="'Liberation Sans', sans-serif" font-size="45.5" transform="translate(1471.40,1226.40) scale(1,1.045)">h</text>
<rect x="1711.60" y="1477.50" width="242.20" height="103.20" rx="1.5" fill="#fff" stroke="#c6c6c6" stroke-width="1.8"/>
<path d="M1715.20,1496.00H1776.60" stroke="#f21212" stroke-width="3.2" stroke-linecap="round"/>
<text font-family="'Liberation Sans', sans-serif" font-size="27.2" transform="translate(1782.80,1505.20) scale(1,1.045)">Experiment</text>
<path d="M1715.90,1529.10H1777.60" stroke="#000" stroke-width="3.4" stroke-linecap="round" stroke-dasharray="5.1,8.8"/>
<text font-family="'Liberation Sans', sans-serif" font-size="27.2" transform="translate(1782.80,1538.30) scale(1,1.045)">Model</text>
<path d="M1715.20,1562.10H1776.60" stroke="#858585" stroke-width="3.2" stroke-linecap="round"/>
<text font-family="'Liberation Sans', sans-serif" font-size="27.2" transform="translate(1782.80,1571.30) scale(1,1.045)">Fickian model</text>
</svg></body></html>
